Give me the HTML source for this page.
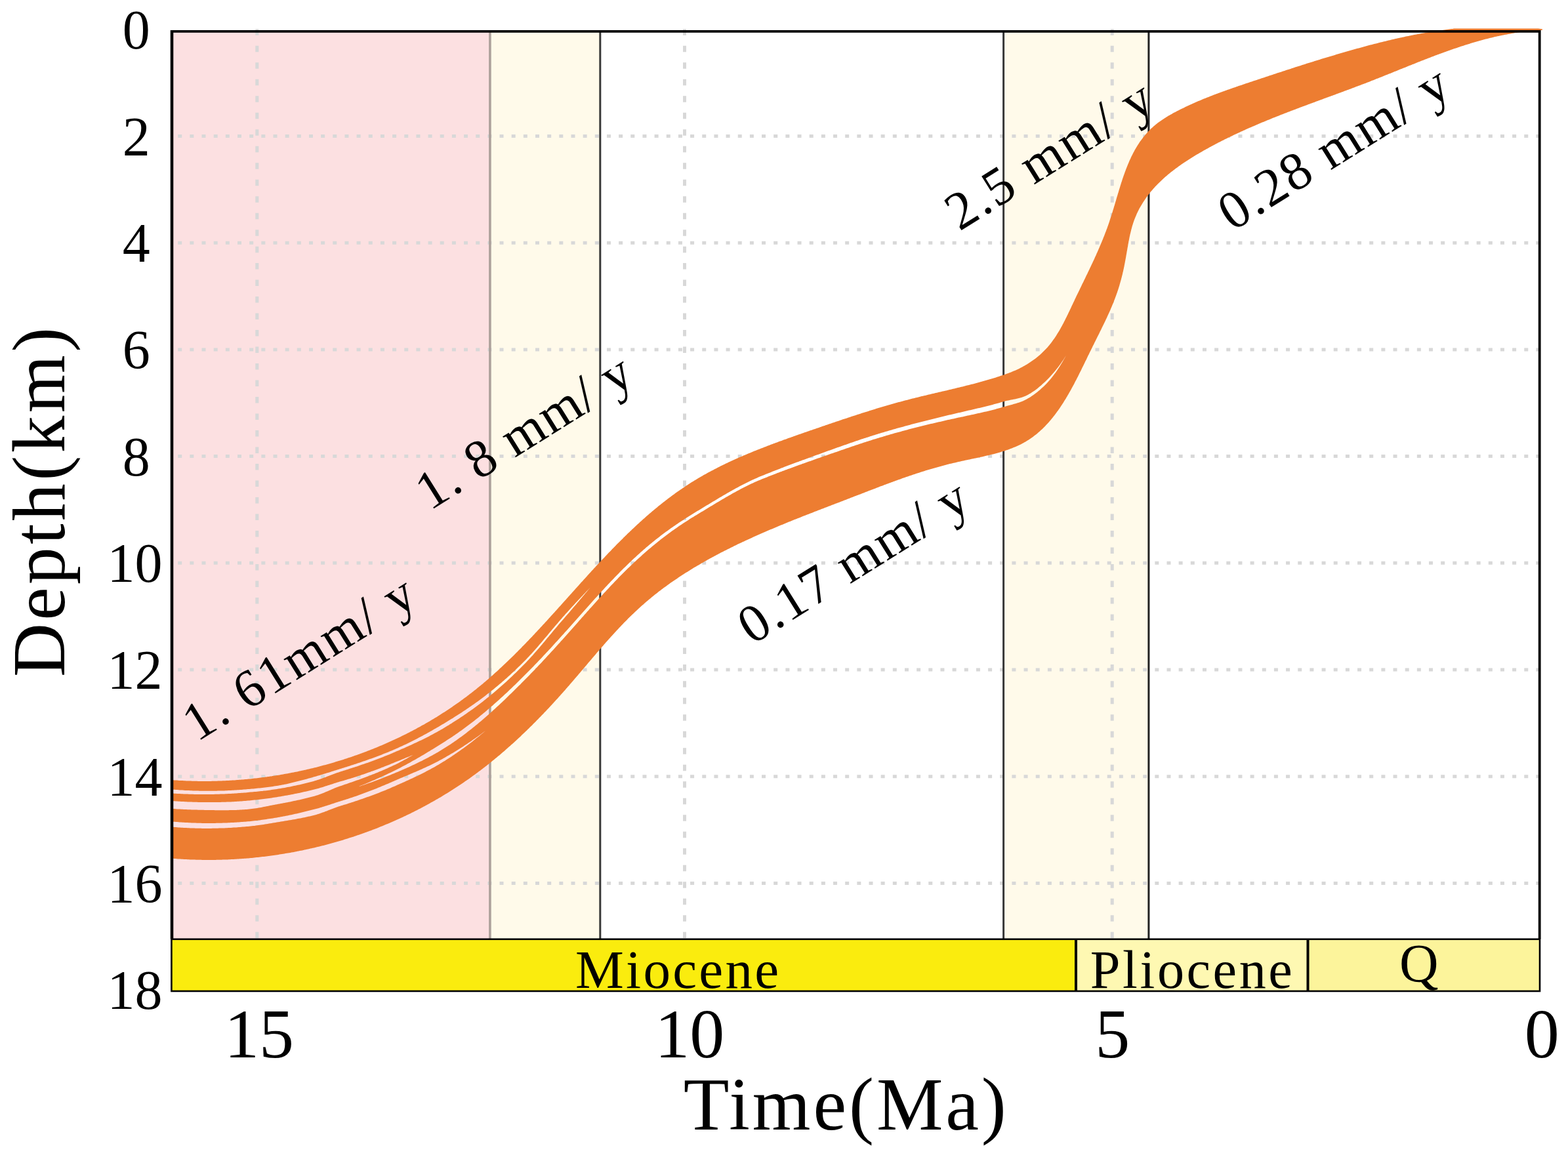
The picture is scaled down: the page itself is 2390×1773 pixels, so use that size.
<!DOCTYPE html>
<html><head><meta charset="utf-8"><title>Depth-Time</title>
<style>html,body{margin:0;padding:0;background:#fff;width:2390px;height:1773px;overflow:hidden}
svg{display:block} text{font-family:"Liberation Serif","Times New Roman",serif;fill:#000}</style>
</head><body>
<svg xmlns="http://www.w3.org/2000/svg" width="2390" height="1773" viewBox="0 0 2390 1773">
<rect x="0" y="0" width="2390" height="1773" fill="#fff"/>
<rect x="261.4000000000001" y="47.8" width="485.4999999999999" height="1383.7" fill="#FCE0E1"/>
<rect x="746.9" y="47.8" width="167.89999999999998" height="1383.7" fill="#FFFAEA"/>
<rect x="1529.6" y="47.8" width="221.30000000000018" height="1383.7" fill="#FFFAEA"/>
<g stroke="#D8D8D8" stroke-width="5" stroke-dasharray="6 12.16"><line x1="271.2" y1="207.5" x2="2345.0" y2="207.5"/><line x1="271.2" y1="370.2" x2="2345.0" y2="370.2"/><line x1="271.2" y1="532.9" x2="2345.0" y2="532.9"/><line x1="271.2" y1="695.6" x2="2345.0" y2="695.6"/><line x1="271.2" y1="858.3" x2="2345.0" y2="858.3"/><line x1="271.2" y1="1021.0" x2="2345.0" y2="1021.0"/><line x1="271.2" y1="1183.7" x2="2345.0" y2="1183.7"/><line x1="271.2" y1="1346.4" x2="2345.0" y2="1346.4"/></g>
<g stroke="#D8D8D8" stroke-width="5" stroke-dasharray="9.5 15.99"><line x1="391.8" y1="44.26" x2="391.8" y2="1431.5"/><line x1="1043.5" y1="44.26" x2="1043.5" y2="1431.5"/><line x1="1695.2" y1="44.26" x2="1695.2" y2="1431.5"/></g>
<line x1="746.9" y1="47.8" x2="746.9" y2="1431.5" stroke="#ADA19B" stroke-width="3.6"/>
<line x1="914.8" y1="47.8" x2="914.8" y2="1431.5" stroke="#383838" stroke-width="3"/>
<line x1="1529.6" y1="47.8" x2="1529.6" y2="1431.5" stroke="#383838" stroke-width="3"/>
<line x1="1750.9" y1="47.8" x2="1750.9" y2="1431.5" stroke="#222" stroke-width="3"/>
<defs><mask id="gm" maskUnits="userSpaceOnUse" x="0" y="0" width="2390" height="1773"><rect x="0" y="0" width="2390" height="1773" fill="#fff"/><path d="M262.0 1203.5 L264.0 1203.7 L266.0 1203.8 L268.0 1204.0 L270.0 1204.1 L272.0 1204.3 L274.0 1204.4 L276.0 1204.5 L278.0 1204.6 L280.0 1204.8 L282.0 1204.9 L284.0 1205.0 L286.0 1205.1 L288.0 1205.1 L290.0 1205.2 L292.0 1205.3 L294.0 1205.4 L296.0 1205.4 L298.0 1205.5 L300.0 1205.6 L302.0 1205.6 L304.0 1205.7 L306.0 1205.7 L308.0 1205.7 L310.0 1205.7 L312.0 1205.8 L314.0 1205.8 L316.0 1205.8 L318.0 1205.8 L320.0 1205.8 L322.0 1205.8 L324.0 1205.8 L326.0 1205.7 L328.0 1205.7 L330.0 1205.7 L332.0 1205.6 L334.0 1205.6 L336.0 1205.5 L338.0 1205.5 L340.0 1205.4 L342.0 1205.4 L344.0 1205.3 L346.0 1205.2 L348.0 1205.1 L350.0 1205.0 L352.0 1204.9 L354.0 1204.8 L356.0 1204.7 L358.0 1204.6 L360.0 1204.5 L362.0 1204.3 L364.0 1204.2 L366.0 1204.1 L368.0 1203.9 L370.0 1203.8 L372.0 1203.6 L374.0 1203.5 L376.0 1203.3 L378.0 1203.1 L380.0 1202.9 L382.0 1202.7 L384.0 1202.6 L386.0 1202.4 L388.0 1202.2 L390.0 1202.0 L392.0 1201.8 L394.0 1201.6 L396.0 1201.4 L398.0 1201.2 L400.0 1201.0 L402.0 1200.7 L404.0 1200.5 L406.0 1200.3 L408.0 1200.0 L410.0 1199.8 L412.0 1199.5 L414.0 1199.2 L416.0 1198.9 L418.0 1198.6 L420.0 1198.3 L422.0 1198.0 L424.0 1197.7 L426.0 1197.3 L428.0 1197.0 L430.0 1196.6 L432.0 1196.2 L434.0 1195.8 L436.0 1195.4 L438.0 1194.9 L440.0 1194.5 L442.0 1194.0 L444.0 1193.6 L446.0 1193.1 L448.0 1192.6 L450.0 1192.1 L452.0 1191.6 L454.0 1191.1 L456.0 1190.6 L458.0 1190.1 L460.0 1189.5 L462.0 1189.0 L464.0 1188.5 L466.0 1187.9 L468.0 1187.4 L470.0 1186.8 L472.0 1186.2 L474.0 1185.7 L476.0 1185.1 L478.0 1184.6 L480.0 1184.0 L482.0 1183.4 L484.0 1182.8 L486.0 1182.3 L488.0 1181.7 L490.0 1181.1 L492.0 1180.5 L494.0 1179.8 L496.0 1179.2 L498.0 1178.6 L500.0 1178.0 L502.0 1177.4 L504.0 1176.7 L506.0 1176.1 L508.0 1175.5 L510.0 1174.8 L512.0 1174.2 L514.0 1173.6 L516.0 1172.9 L518.0 1172.3 L520.0 1171.7 L522.0 1171.1 L524.0 1170.4 L526.0 1169.8 L528.0 1169.2 L530.0 1168.5 L532.0 1167.9 L534.0 1167.3 L536.0 1166.6 L538.0 1166.0 L540.0 1165.3 L542.0 1164.7 L544.0 1164.0 L546.0 1163.3 L548.0 1162.7 L550.0 1162.0 L552.0 1161.3 L554.0 1160.6 L556.0 1159.9 L558.0 1159.2 L560.0 1158.5 L562.0 1157.8 L564.0 1157.1 L566.0 1156.4 L568.0 1155.7 L570.0 1154.9 L572.0 1154.2 L574.0 1153.5 L576.0 1152.7 L578.0 1151.9 L580.0 1151.2 L582.0 1150.4 L584.0 1149.6 L586.0 1148.8 L588.0 1148.0 L590.0 1147.2 L592.0 1146.4 L594.0 1145.6 L596.0 1144.7 L598.0 1143.9 L600.0 1143.0 L602.0 1142.2 L604.0 1141.3 L606.0 1140.4 L608.0 1139.5 L610.0 1138.6 L612.0 1137.7 L614.0 1136.8 L616.0 1135.8 L618.0 1134.9 L620.0 1133.9 L622.0 1133.0 L624.0 1132.0 L626.0 1131.0 L628.0 1130.0 L630.0 1129.0 L632.0 1128.0 L634.0 1126.9 L636.0 1125.9 L638.0 1124.8 L640.0 1123.8 L642.0 1122.7 L644.0 1121.7 L646.0 1120.6 L648.0 1119.5 L650.0 1118.4 L652.0 1117.3 L654.0 1116.2 L656.0 1115.1 L658.0 1113.9 L660.0 1112.8 L662.0 1111.6 L664.0 1110.5 L666.0 1109.3 L668.0 1108.2 L670.0 1107.0 L672.0 1105.8 L674.0 1104.6 L676.0 1103.4 L678.0 1102.2 L680.0 1101.0 L682.0 1099.8 L684.0 1098.6 L686.0 1097.3 L688.0 1096.1 L690.0 1094.9 L692.0 1093.6 L694.0 1092.3 L696.0 1091.1 L698.0 1089.8 L700.0 1088.5 L702.0 1087.2 L704.0 1085.9 L706.0 1084.6 L708.0 1083.3 L710.0 1081.9 L712.0 1080.6 L714.0 1079.2 L716.0 1077.8 L718.0 1076.5 L720.0 1075.1 L722.0 1073.7 L724.0 1072.2 L726.0 1070.8 L728.0 1069.4 L730.0 1067.9 L732.0 1066.4 L734.0 1064.9 L736.0 1063.4 L738.0 1061.9 L740.0 1060.4 L742.0 1058.8 L744.0 1057.3 L746.0 1055.7 L748.0 1054.1 L750.0 1052.5 L752.0 1050.9 L754.0 1049.3 L756.0 1047.6 L758.0 1046.0 L760.0 1044.3 L762.0 1042.6 L764.0 1040.9 L766.0 1039.1 L768.0 1037.4 L770.0 1035.6 L772.0 1033.9 L774.0 1032.1 L776.0 1030.3 L778.0 1028.4 L780.0 1026.6 L782.0 1024.7 L784.0 1022.9 L786.0 1021.0 L788.0 1019.1 L790.0 1017.1 L792.0 1015.2 L794.0 1013.2 L796.0 1011.2 L798.0 1009.2 L800.0 1007.2 L802.0 1005.2 L804.0 1003.1 L806.0 1001.0 L808.0 998.8 L810.0 996.7 L812.0 994.5 L814.0 992.2 L816.0 990.0 L818.0 987.7 L820.0 985.4 L822.0 983.1 L824.0 980.7 L826.0 978.4 L828.0 976.0 L830.0 973.6 L832.0 971.3 L834.0 968.9 L836.0 966.5 L838.0 964.1 L840.0 961.7 L842.0 959.3 L844.0 956.9 L846.0 954.6 L848.0 952.2 L850.0 949.9 L852.0 947.5 L854.0 945.2 L856.0 942.9 L858.0 940.6 L860.0 938.4 L862.0 936.1 L864.0 933.9 L866.0 931.7 L868.0 929.5 L870.0 927.3 L872.0 925.1 L874.0 922.9 L876.0 920.7 L878.0 918.6 L880.0 916.4 L882.0 914.3 L884.0 912.2 L886.0 910.0 L888.0 907.9 L890.0 905.8 L892.0 903.7 L894.0 901.6 L896.0 899.5 L898.0 897.4 L900.0 895.3 L900.0 895.3 L898.0 897.7 L896.0 900.0 L894.0 902.4 L892.0 904.8 L890.0 907.2 L888.0 909.5 L886.0 911.9 L884.0 914.3 L882.0 916.7 L880.0 919.0 L878.0 921.4 L876.0 923.8 L874.0 926.1 L872.0 928.5 L870.0 930.8 L868.0 933.2 L866.0 935.5 L864.0 937.8 L862.0 940.1 L860.0 942.4 L858.0 944.7 L856.0 947.0 L854.0 949.3 L852.0 951.6 L850.0 954.0 L848.0 956.4 L846.0 958.7 L844.0 961.1 L842.0 963.5 L840.0 965.9 L838.0 968.3 L836.0 970.7 L834.0 973.1 L832.0 975.5 L830.0 977.9 L828.0 980.3 L826.0 982.7 L824.0 985.0 L822.0 987.4 L820.0 989.7 L818.0 992.0 L816.0 994.3 L814.0 996.6 L812.0 998.9 L810.0 1001.1 L808.0 1003.3 L806.0 1005.4 L804.0 1007.6 L802.0 1009.7 L800.0 1011.7 L798.0 1013.8 L796.0 1015.8 L794.0 1017.8 L792.0 1019.8 L790.0 1021.8 L788.0 1023.7 L786.0 1025.7 L784.0 1027.6 L782.0 1029.5 L780.0 1031.4 L778.0 1033.3 L776.0 1035.2 L774.0 1037.0 L772.0 1038.9 L770.0 1040.7 L768.0 1042.5 L766.0 1044.3 L764.0 1046.1 L762.0 1047.8 L760.0 1049.6 L758.0 1051.3 L756.0 1053.0 L754.0 1054.7 L752.0 1056.4 L750.0 1058.1 L748.0 1059.7 L746.0 1061.4 L744.0 1063.0 L742.0 1064.6 L740.0 1066.2 L738.0 1067.8 L736.0 1069.4 L734.0 1070.9 L732.0 1072.4 L730.0 1074.0 L728.0 1075.5 L726.0 1077.0 L724.0 1078.5 L722.0 1079.9 L720.0 1081.4 L718.0 1082.8 L716.0 1084.2 L714.0 1085.6 L712.0 1087.0 L710.0 1088.4 L708.0 1089.8 L706.0 1091.2 L704.0 1092.5 L702.0 1093.8 L700.0 1095.2 L698.0 1096.5 L696.0 1097.8 L694.0 1099.1 L692.0 1100.3 L690.0 1101.6 L688.0 1102.9 L686.0 1104.1 L684.0 1105.4 L682.0 1106.6 L680.0 1107.8 L678.0 1109.0 L676.0 1110.2 L674.0 1111.4 L672.0 1112.5 L670.0 1113.7 L668.0 1114.8 L666.0 1115.9 L664.0 1117.0 L662.0 1118.1 L660.0 1119.2 L658.0 1120.3 L656.0 1121.3 L654.0 1122.4 L652.0 1123.4 L650.0 1124.4 L648.0 1125.4 L646.0 1126.4 L644.0 1127.4 L642.0 1128.4 L640.0 1129.3 L638.0 1130.3 L636.0 1131.3 L634.0 1132.2 L632.0 1133.1 L630.0 1134.1 L628.0 1135.0 L626.0 1135.9 L624.0 1136.8 L622.0 1137.7 L620.0 1138.6 L618.0 1139.5 L616.0 1140.4 L614.0 1141.3 L612.0 1142.1 L610.0 1143.0 L608.0 1143.9 L606.0 1144.8 L604.0 1145.6 L602.0 1146.5 L600.0 1147.3 L598.0 1148.2 L596.0 1149.0 L594.0 1149.9 L592.0 1150.7 L590.0 1151.5 L588.0 1152.3 L586.0 1153.1 L584.0 1153.9 L582.0 1154.7 L580.0 1155.5 L578.0 1156.3 L576.0 1157.0 L574.0 1157.8 L572.0 1158.5 L570.0 1159.3 L568.0 1160.0 L566.0 1160.7 L564.0 1161.4 L562.0 1162.2 L560.0 1162.9 L558.0 1163.6 L556.0 1164.3 L554.0 1165.0 L552.0 1165.6 L550.0 1166.3 L548.0 1167.0 L546.0 1167.7 L544.0 1168.4 L542.0 1169.0 L540.0 1169.7 L538.0 1170.3 L536.0 1171.0 L534.0 1171.6 L532.0 1172.3 L530.0 1172.9 L528.0 1173.6 L526.0 1174.2 L524.0 1174.8 L522.0 1175.5 L520.0 1176.1 L518.0 1176.7 L516.0 1177.4 L514.0 1178.1 L512.0 1178.8 L510.0 1179.5 L508.0 1180.3 L506.0 1181.0 L504.0 1181.8 L502.0 1182.6 L500.0 1183.3 L498.0 1184.1 L496.0 1184.9 L494.0 1185.6 L492.0 1186.3 L490.0 1187.1 L488.0 1187.8 L486.0 1188.4 L484.0 1189.1 L482.0 1189.7 L480.0 1190.3 L478.0 1190.9 L476.0 1191.4 L474.0 1191.9 L472.0 1192.5 L470.0 1193.0 L468.0 1193.5 L466.0 1194.0 L464.0 1194.5 L462.0 1195.0 L460.0 1195.5 L458.0 1195.9 L456.0 1196.4 L454.0 1196.8 L452.0 1197.3 L450.0 1197.7 L448.0 1198.1 L446.0 1198.6 L444.0 1199.0 L442.0 1199.4 L440.0 1199.8 L438.0 1200.1 L436.0 1200.5 L434.0 1200.9 L432.0 1201.2 L430.0 1201.6 L428.0 1201.9 L426.0 1202.3 L424.0 1202.6 L422.0 1202.9 L420.0 1203.2 L418.0 1203.5 L416.0 1203.8 L414.0 1204.1 L412.0 1204.4 L410.0 1204.7 L408.0 1204.9 L406.0 1205.2 L404.0 1205.4 L402.0 1205.6 L400.0 1205.9 L398.0 1206.1 L396.0 1206.3 L394.0 1206.5 L392.0 1206.7 L390.0 1206.9 L388.0 1207.1 L386.0 1207.3 L384.0 1207.5 L382.0 1207.6 L380.0 1207.8 L378.0 1208.0 L376.0 1208.2 L374.0 1208.4 L372.0 1208.5 L370.0 1208.7 L368.0 1208.8 L366.0 1209.0 L364.0 1209.1 L362.0 1209.3 L360.0 1209.4 L358.0 1209.5 L356.0 1209.7 L354.0 1209.8 L352.0 1209.9 L350.0 1210.0 L348.0 1210.1 L346.0 1210.2 L344.0 1210.3 L342.0 1210.4 L340.0 1210.5 L338.0 1210.5 L336.0 1210.6 L334.0 1210.7 L332.0 1210.7 L330.0 1210.8 L328.0 1210.8 L326.0 1210.9 L324.0 1210.9 L322.0 1211.0 L320.0 1211.0 L318.0 1211.0 L316.0 1211.0 L314.0 1211.0 L312.0 1211.0 L310.0 1211.0 L308.0 1211.0 L306.0 1211.0 L304.0 1211.0 L302.0 1211.0 L300.0 1211.0 L298.0 1210.9 L296.0 1210.9 L294.0 1210.8 L292.0 1210.8 L290.0 1210.7 L288.0 1210.7 L286.0 1210.6 L284.0 1210.6 L282.0 1210.5 L280.0 1210.4 L278.0 1210.3 L276.0 1210.2 L274.0 1210.1 L272.0 1210.0 L270.0 1209.9 L268.0 1209.8 L266.0 1209.7 L264.0 1209.5 L262.0 1209.4 Z" fill="#000"/><path d="M262.0 1221.0 L264.0 1221.2 L266.0 1221.3 L268.0 1221.4 L270.0 1221.6 L272.0 1221.7 L274.0 1221.8 L276.0 1221.9 L278.0 1222.0 L280.0 1222.1 L282.0 1222.2 L284.0 1222.3 L286.0 1222.4 L288.0 1222.5 L290.0 1222.5 L292.0 1222.6 L294.0 1222.7 L296.0 1222.7 L298.0 1222.8 L300.0 1222.8 L302.0 1222.9 L304.0 1222.9 L306.0 1222.9 L308.0 1222.9 L310.0 1223.0 L312.0 1223.0 L314.0 1223.0 L316.0 1223.0 L318.0 1223.0 L320.0 1223.0 L322.0 1223.0 L324.0 1223.0 L326.0 1223.0 L328.0 1223.0 L330.0 1223.0 L332.0 1222.9 L334.0 1222.9 L336.0 1222.9 L338.0 1222.8 L340.0 1222.8 L342.0 1222.7 L344.0 1222.7 L346.0 1222.6 L348.0 1222.5 L350.0 1222.4 L352.0 1222.4 L354.0 1222.3 L356.0 1222.2 L358.0 1222.1 L360.0 1222.0 L362.0 1221.8 L364.0 1221.7 L366.0 1221.6 L368.0 1221.4 L370.0 1221.3 L372.0 1221.1 L374.0 1221.0 L376.0 1220.8 L378.0 1220.6 L380.0 1220.4 L382.0 1220.2 L384.0 1220.0 L386.0 1219.8 L388.0 1219.6 L390.0 1219.4 L392.0 1219.2 L394.0 1219.0 L396.0 1218.7 L398.0 1218.5 L400.0 1218.3 L402.0 1218.0 L404.0 1217.8 L406.0 1217.5 L408.0 1217.2 L410.0 1217.0 L412.0 1216.7 L414.0 1216.4 L416.0 1216.1 L418.0 1215.8 L420.0 1215.5 L422.0 1215.2 L424.0 1214.8 L426.0 1214.5 L428.0 1214.2 L430.0 1213.8 L432.0 1213.5 L434.0 1213.1 L436.0 1212.8 L438.0 1212.4 L440.0 1212.0 L442.0 1211.7 L444.0 1211.3 L446.0 1210.9 L448.0 1210.5 L450.0 1210.1 L452.0 1209.7 L454.0 1209.3 L456.0 1208.9 L458.0 1208.4 L460.0 1208.0 L462.0 1207.6 L464.0 1207.1 L466.0 1206.7 L468.0 1206.2 L470.0 1205.7 L472.0 1205.3 L474.0 1204.8 L476.0 1204.3 L478.0 1203.8 L480.0 1203.3 L482.0 1202.8 L484.0 1202.2 L486.0 1201.7 L488.0 1201.1 L490.0 1200.5 L492.0 1199.9 L494.0 1199.3 L496.0 1198.6 L498.0 1198.0 L500.0 1197.3 L502.0 1196.7 L504.0 1196.0 L506.0 1195.4 L508.0 1194.7 L510.0 1194.1 L512.0 1193.5 L514.0 1192.8 L516.0 1192.2 L518.0 1191.6 L520.0 1191.1 L522.0 1190.5 L524.0 1189.9 L526.0 1189.3 L528.0 1188.7 L530.0 1188.1 L532.0 1187.5 L534.0 1186.9 L536.0 1186.3 L538.0 1185.7 L540.0 1185.0 L542.0 1184.4 L544.0 1183.7 L546.0 1183.1 L548.0 1182.4 L550.0 1181.7 L552.0 1181.1 L554.0 1180.4 L556.0 1179.7 L558.0 1179.0 L560.0 1178.3 L562.0 1177.6 L564.0 1176.9 L566.0 1176.1 L568.0 1175.4 L570.0 1174.7 L572.0 1173.9 L574.0 1173.2 L576.0 1172.4 L578.0 1171.7 L580.0 1170.9 L582.0 1170.1 L584.0 1169.4 L586.0 1168.6 L588.0 1167.8 L590.0 1167.0 L592.0 1166.2 L594.0 1165.4 L596.0 1164.6 L598.0 1163.8 L600.0 1162.9 L602.0 1162.1 L604.0 1161.3 L606.0 1160.5 L608.0 1159.7 L610.0 1158.9 L612.0 1158.1 L614.0 1157.3 L616.0 1156.4 L618.0 1155.6 L620.0 1154.8 L622.0 1154.0 L624.0 1153.2 L626.0 1152.3 L628.0 1151.5 L630.0 1150.7 L630.0 1150.7 L628.0 1151.8 L626.0 1153.0 L624.0 1154.1 L622.0 1155.3 L620.0 1156.4 L618.0 1157.5 L616.0 1158.6 L614.0 1159.7 L612.0 1160.8 L610.0 1161.8 L608.0 1162.9 L606.0 1163.9 L604.0 1164.9 L602.0 1165.9 L600.0 1166.8 L598.0 1167.8 L596.0 1168.7 L594.0 1169.6 L592.0 1170.5 L590.0 1171.4 L588.0 1172.3 L586.0 1173.2 L584.0 1174.1 L582.0 1174.9 L580.0 1175.8 L578.0 1176.6 L576.0 1177.4 L574.0 1178.2 L572.0 1179.1 L570.0 1179.9 L568.0 1180.6 L566.0 1181.4 L564.0 1182.2 L562.0 1183.0 L560.0 1183.7 L558.0 1184.5 L556.0 1185.2 L554.0 1186.0 L552.0 1186.7 L550.0 1187.4 L548.0 1188.2 L546.0 1188.9 L544.0 1189.6 L542.0 1190.3 L540.0 1191.0 L538.0 1191.7 L536.0 1192.4 L534.0 1193.1 L532.0 1193.8 L530.0 1194.5 L528.0 1195.2 L526.0 1195.8 L524.0 1196.5 L522.0 1197.2 L520.0 1197.9 L518.0 1198.5 L516.0 1199.3 L514.0 1200.0 L512.0 1200.8 L510.0 1201.6 L508.0 1202.5 L506.0 1203.3 L504.0 1204.2 L502.0 1205.0 L500.0 1205.9 L498.0 1206.8 L496.0 1207.6 L494.0 1208.4 L492.0 1209.2 L490.0 1210.0 L488.0 1210.8 L486.0 1211.5 L484.0 1212.2 L482.0 1212.8 L480.0 1213.4 L478.0 1214.0 L476.0 1214.5 L474.0 1215.0 L472.0 1215.6 L470.0 1216.1 L468.0 1216.6 L466.0 1217.1 L464.0 1217.6 L462.0 1218.0 L460.0 1218.5 L458.0 1219.0 L456.0 1219.4 L454.0 1219.8 L452.0 1220.3 L450.0 1220.7 L448.0 1221.1 L446.0 1221.6 L444.0 1222.0 L442.0 1222.4 L440.0 1222.8 L438.0 1223.2 L436.0 1223.6 L434.0 1223.9 L432.0 1224.3 L430.0 1224.7 L428.0 1225.1 L426.0 1225.5 L424.0 1225.8 L422.0 1226.2 L420.0 1226.6 L418.0 1226.9 L416.0 1227.3 L414.0 1227.7 L412.0 1228.1 L410.0 1228.5 L408.0 1228.9 L406.0 1229.3 L404.0 1229.7 L402.0 1230.1 L400.0 1230.5 L398.0 1230.9 L396.0 1231.2 L394.0 1231.6 L392.0 1231.9 L390.0 1232.3 L388.0 1232.6 L386.0 1232.8 L384.0 1233.1 L382.0 1233.3 L380.0 1233.5 L378.0 1233.7 L376.0 1233.9 L374.0 1234.1 L372.0 1234.2 L370.0 1234.3 L368.0 1234.5 L366.0 1234.6 L364.0 1234.7 L362.0 1234.8 L360.0 1234.9 L358.0 1234.9 L356.0 1235.0 L354.0 1235.0 L352.0 1235.1 L350.0 1235.1 L348.0 1235.2 L346.0 1235.2 L344.0 1235.2 L342.0 1235.2 L340.0 1235.2 L338.0 1235.2 L336.0 1235.2 L334.0 1235.2 L332.0 1235.2 L330.0 1235.2 L328.0 1235.2 L326.0 1235.1 L324.0 1235.1 L322.0 1235.1 L320.0 1235.0 L318.0 1235.0 L316.0 1234.9 L314.0 1234.9 L312.0 1234.9 L310.0 1234.8 L308.0 1234.8 L306.0 1234.7 L304.0 1234.7 L302.0 1234.7 L300.0 1234.6 L298.0 1234.6 L296.0 1234.5 L294.0 1234.5 L292.0 1234.4 L290.0 1234.3 L288.0 1234.3 L286.0 1234.2 L284.0 1234.1 L282.0 1234.0 L280.0 1233.9 L278.0 1233.8 L276.0 1233.7 L274.0 1233.6 L272.0 1233.5 L270.0 1233.4 L268.0 1233.2 L266.0 1233.1 L264.0 1233.0 L262.0 1232.8 Z" fill="#000"/><path d="M545.0 1199.7 L547.0 1198.9 L549.0 1198.1 L551.0 1197.3 L553.0 1196.5 L555.0 1195.7 L557.0 1194.9 L559.0 1194.0 L561.0 1193.2 L563.0 1192.3 L565.0 1191.5 L567.0 1190.6 L569.0 1189.8 L571.0 1188.9 L573.0 1188.0 L575.0 1187.1 L577.0 1186.2 L579.0 1185.3 L581.0 1184.4 L583.0 1183.5 L585.0 1182.6 L587.0 1181.7 L589.0 1180.7 L591.0 1179.8 L593.0 1178.8 L595.0 1177.9 L597.0 1176.9 L599.0 1175.9 L601.0 1175.0 L603.0 1174.0 L605.0 1173.0 L607.0 1172.0 L609.0 1170.9 L611.0 1169.9 L613.0 1168.8 L615.0 1167.8 L617.0 1166.7 L619.0 1165.7 L621.0 1164.6 L623.0 1163.5 L625.0 1162.4 L627.0 1161.3 L629.0 1160.1 L631.0 1159.0 L633.0 1157.9 L635.0 1156.7 L637.0 1155.6 L639.0 1154.4 L641.0 1153.2 L643.0 1152.1 L645.0 1150.9 L647.0 1149.7 L649.0 1148.5 L651.0 1147.3 L653.0 1146.1 L655.0 1144.9 L657.0 1143.6 L659.0 1142.4 L661.0 1141.2 L663.0 1139.9 L665.0 1138.7 L667.0 1137.5 L669.0 1136.2 L671.0 1134.9 L673.0 1133.7 L675.0 1132.4 L677.0 1131.2 L679.0 1129.9 L681.0 1128.6 L683.0 1127.3 L685.0 1126.0 L687.0 1124.7 L689.0 1123.4 L691.0 1122.0 L693.0 1120.7 L695.0 1119.3 L697.0 1117.9 L699.0 1116.5 L701.0 1115.1 L703.0 1113.7 L705.0 1112.2 L707.0 1110.8 L709.0 1109.3 L711.0 1107.8 L713.0 1106.3 L715.0 1104.8 L717.0 1103.3 L719.0 1101.8 L721.0 1100.2 L723.0 1098.7 L725.0 1097.1 L727.0 1095.5 L729.0 1093.9 L731.0 1092.3 L733.0 1090.6 L735.0 1089.0 L737.0 1087.3 L739.0 1085.7 L741.0 1084.0 L743.0 1082.3 L745.0 1080.6 L747.0 1078.8 L749.0 1077.1 L751.0 1075.4 L753.0 1073.6 L755.0 1071.8 L757.0 1070.0 L759.0 1068.2 L761.0 1066.4 L763.0 1064.6 L765.0 1062.8 L767.0 1060.9 L769.0 1059.1 L771.0 1057.2 L773.0 1055.4 L775.0 1053.5 L777.0 1051.6 L779.0 1049.7 L781.0 1047.8 L783.0 1045.8 L785.0 1043.9 L787.0 1042.0 L789.0 1040.0 L791.0 1038.0 L793.0 1036.1 L795.0 1034.1 L797.0 1032.1 L799.0 1030.1 L801.0 1028.1 L803.0 1026.1 L805.0 1024.1 L807.0 1022.1 L809.0 1020.0 L811.0 1018.0 L813.0 1015.9 L815.0 1013.8 L817.0 1011.8 L819.0 1009.7 L821.0 1007.6 L823.0 1005.5 L825.0 1003.4 L827.0 1001.2 L829.0 999.1 L831.0 997.0 L833.0 994.8 L835.0 992.7 L837.0 990.5 L839.0 988.4 L841.0 986.2 L843.0 984.0 L845.0 981.8 L847.0 979.6 L849.0 977.4 L851.0 975.2 L853.0 973.0 L855.0 970.8 L857.0 968.6 L859.0 966.4 L861.0 964.1 L863.0 961.9 L865.0 959.7 L867.0 957.4 L869.0 955.2 L871.0 952.9 L873.0 950.7 L875.0 948.4 L877.0 946.2 L879.0 943.9 L881.0 941.7 L883.0 939.4 L885.0 937.2 L887.0 934.9 L889.0 932.7 L891.0 930.4 L893.0 928.2 L895.0 925.9 L897.0 923.7 L899.0 921.5 L901.0 919.2 L903.0 917.0 L905.0 914.8 L907.0 912.6 L909.0 910.4 L911.0 908.2 L913.0 906.0 L915.0 903.8 L917.0 901.6 L919.0 899.4 L921.0 897.3 L923.0 895.1 L925.0 893.0 L927.0 890.8 L929.0 888.7 L931.0 886.6 L933.0 884.5 L935.0 882.4 L937.0 880.3 L939.0 878.3 L941.0 876.2 L943.0 874.2 L945.0 872.1 L947.0 870.1 L949.0 868.1 L951.0 866.1 L953.0 864.2 L955.0 862.2 L957.0 860.2 L959.0 858.3 L961.0 856.4 L963.0 854.5 L965.0 852.6 L967.0 850.7 L969.0 848.9 L971.0 847.0 L973.0 845.2 L975.0 843.4 L977.0 841.6 L979.0 839.9 L981.0 838.1 L983.0 836.4 L985.0 834.6 L987.0 832.9 L989.0 831.2 L991.0 829.6 L993.0 827.9 L995.0 826.3 L997.0 824.7 L999.0 823.1 L1001.0 821.5 L1003.0 819.9 L1005.0 818.4 L1007.0 816.8 L1009.0 815.3 L1011.0 813.8 L1013.0 812.3 L1015.0 810.8 L1017.0 809.4 L1019.0 807.9 L1021.0 806.5 L1023.0 805.1 L1025.0 803.7 L1027.0 802.3 L1029.0 800.9 L1031.0 799.5 L1033.0 798.2 L1035.0 796.8 L1037.0 795.5 L1039.0 794.2 L1041.0 792.9 L1043.0 791.6 L1045.0 790.3 L1047.0 789.0 L1049.0 787.7 L1051.0 786.5 L1053.0 785.2 L1055.0 784.0 L1057.0 782.8 L1059.0 781.5 L1061.0 780.3 L1063.0 779.1 L1065.0 777.9 L1067.0 776.7 L1069.0 775.5 L1071.0 774.3 L1073.0 773.1 L1075.0 771.8 L1077.0 770.6 L1079.0 769.4 L1081.0 768.2 L1083.0 767.0 L1085.0 765.8 L1087.0 764.6 L1089.0 763.4 L1091.0 762.2 L1093.0 761.0 L1095.0 759.8 L1097.0 758.6 L1099.0 757.4 L1101.0 756.2 L1103.0 755.1 L1105.0 753.9 L1107.0 752.7 L1109.0 751.6 L1111.0 750.4 L1113.0 749.3 L1115.0 748.2 L1117.0 747.0 L1119.0 745.9 L1121.0 744.8 L1123.0 743.7 L1125.0 742.7 L1127.0 741.6 L1129.0 740.5 L1131.0 739.5 L1133.0 738.4 L1135.0 737.4 L1137.0 736.4 L1139.0 735.4 L1141.0 734.4 L1143.0 733.5 L1145.0 732.5 L1147.0 731.6 L1149.0 730.7 L1151.0 729.7 L1153.0 728.9 L1155.0 728.0 L1157.0 727.1 L1159.0 726.3 L1161.0 725.5 L1163.0 724.7 L1165.0 723.9 L1167.0 723.1 L1169.0 722.3 L1171.0 721.5 L1173.0 720.7 L1175.0 719.9 L1177.0 719.1 L1179.0 718.3 L1181.0 717.5 L1183.0 716.7 L1185.0 716.0 L1187.0 715.2 L1189.0 714.4 L1191.0 713.6 L1193.0 712.9 L1195.0 712.1 L1197.0 711.3 L1199.0 710.6 L1201.0 709.8 L1203.0 709.1 L1205.0 708.3 L1207.0 707.6 L1209.0 706.8 L1211.0 706.1 L1213.0 705.3 L1215.0 704.6 L1217.0 703.9 L1219.0 703.1 L1221.0 702.4 L1223.0 701.6 L1225.0 700.9 L1227.0 700.2 L1229.0 699.4 L1231.0 698.7 L1233.0 698.0 L1235.0 697.2 L1237.0 696.5 L1239.0 695.8 L1241.0 695.1 L1243.0 694.3 L1245.0 693.6 L1247.0 692.9 L1249.0 692.2 L1251.0 691.4 L1253.0 690.7 L1255.0 690.0 L1257.0 689.3 L1259.0 688.5 L1261.0 687.8 L1263.0 687.1 L1265.0 686.4 L1267.0 685.7 L1269.0 685.0 L1271.0 684.3 L1273.0 683.5 L1275.0 682.8 L1277.0 682.1 L1279.0 681.4 L1281.0 680.7 L1283.0 680.0 L1285.0 679.3 L1287.0 678.6 L1289.0 677.9 L1291.0 677.2 L1293.0 676.5 L1295.0 675.8 L1297.0 675.1 L1299.0 674.4 L1301.0 673.7 L1303.0 673.0 L1305.0 672.3 L1307.0 671.7 L1309.0 671.0 L1311.0 670.3 L1313.0 669.6 L1315.0 669.0 L1317.0 668.3 L1319.0 667.7 L1321.0 667.0 L1323.0 666.4 L1325.0 665.7 L1327.0 665.1 L1329.0 664.5 L1331.0 663.8 L1333.0 663.2 L1335.0 662.6 L1337.0 662.0 L1339.0 661.3 L1341.0 660.7 L1343.0 660.1 L1345.0 659.5 L1347.0 658.9 L1349.0 658.3 L1351.0 657.7 L1353.0 657.2 L1355.0 656.6 L1357.0 656.0 L1359.0 655.4 L1361.0 654.8 L1363.0 654.3 L1365.0 653.7 L1367.0 653.1 L1369.0 652.6 L1371.0 652.0 L1373.0 651.5 L1375.0 650.9 L1377.0 650.4 L1379.0 649.8 L1381.0 649.3 L1383.0 648.7 L1385.0 648.2 L1387.0 647.7 L1389.0 647.1 L1391.0 646.6 L1393.0 646.1 L1395.0 645.6 L1397.0 645.1 L1399.0 644.5 L1401.0 644.0 L1403.0 643.5 L1405.0 643.0 L1407.0 642.5 L1409.0 642.0 L1411.0 641.5 L1413.0 641.0 L1415.0 640.5 L1417.0 640.0 L1419.0 639.5 L1421.0 639.0 L1423.0 638.5 L1425.0 638.0 L1427.0 637.5 L1429.0 637.0 L1431.0 636.5 L1433.0 636.0 L1435.0 635.5 L1437.0 635.0 L1439.0 634.6 L1441.0 634.1 L1443.0 633.6 L1445.0 633.1 L1447.0 632.6 L1449.0 632.2 L1451.0 631.7 L1453.0 631.2 L1455.0 630.7 L1457.0 630.3 L1459.0 629.8 L1461.0 629.3 L1463.0 628.9 L1465.0 628.4 L1467.0 627.9 L1469.0 627.5 L1471.0 627.0 L1473.0 626.6 L1475.0 626.1 L1477.0 625.6 L1479.0 625.2 L1481.0 624.7 L1483.0 624.2 L1485.0 623.8 L1487.0 623.3 L1489.0 622.8 L1491.0 622.3 L1493.0 621.9 L1495.0 621.4 L1497.0 620.9 L1499.0 620.4 L1501.0 619.9 L1503.0 619.4 L1505.0 618.9 L1507.0 618.4 L1509.0 617.9 L1511.0 617.4 L1513.0 616.9 L1515.0 616.3 L1517.0 615.8 L1519.0 615.3 L1521.0 614.7 L1523.0 614.2 L1525.0 613.6 L1527.0 613.0 L1529.0 612.4 L1531.0 611.8 L1533.0 611.3 L1535.0 610.8 L1537.0 610.4 L1539.0 610.0 L1541.0 609.6 L1543.0 609.2 L1545.0 608.8 L1547.0 608.4 L1549.0 608.0 L1551.0 607.6 L1553.0 607.1 L1555.0 606.5 L1557.0 606.0 L1559.0 605.3 L1561.0 604.5 L1563.0 603.7 L1565.0 602.8 L1567.0 601.7 L1569.0 600.6 L1571.0 599.4 L1573.0 598.1 L1575.0 596.8 L1577.0 595.4 L1579.0 593.9 L1581.0 592.4 L1583.0 590.8 L1585.0 589.1 L1587.0 587.4 L1589.0 585.6 L1591.0 583.8 L1593.0 581.9 L1595.0 580.0 L1597.0 578.0 L1599.0 575.9 L1601.0 573.8 L1603.0 571.6 L1605.0 569.3 L1607.0 567.0 L1609.0 564.5 L1611.0 562.0 L1613.0 559.4 L1615.0 556.7 L1617.0 554.0 L1619.0 551.1 L1621.0 548.2 L1623.0 545.1 L1625.0 542.0 L1625.0 542.0 L1623.0 545.6 L1621.0 549.1 L1619.0 552.5 L1617.0 555.8 L1615.0 559.0 L1613.0 562.0 L1611.0 565.0 L1609.0 567.9 L1607.0 570.6 L1605.0 573.3 L1603.0 575.8 L1601.0 578.2 L1599.0 580.6 L1597.0 582.8 L1595.0 584.9 L1593.0 587.0 L1591.0 588.9 L1589.0 590.8 L1587.0 592.6 L1585.0 594.4 L1583.0 596.1 L1581.0 597.7 L1579.0 599.3 L1577.0 600.8 L1575.0 602.2 L1573.0 603.6 L1571.0 604.9 L1569.0 606.2 L1567.0 607.3 L1565.0 608.5 L1563.0 609.5 L1561.0 610.5 L1559.0 611.4 L1557.0 612.2 L1555.0 612.9 L1553.0 613.7 L1551.0 614.3 L1549.0 614.9 L1547.0 615.5 L1545.0 616.1 L1543.0 616.7 L1541.0 617.2 L1539.0 617.7 L1537.0 618.3 L1535.0 618.8 L1533.0 619.4 L1531.0 619.9 L1529.0 620.5 L1527.0 621.1 L1525.0 621.7 L1523.0 622.2 L1521.0 622.8 L1519.0 623.3 L1517.0 623.9 L1515.0 624.4 L1513.0 624.9 L1511.0 625.4 L1509.0 625.9 L1507.0 626.4 L1505.0 626.9 L1503.0 627.4 L1501.0 627.8 L1499.0 628.3 L1497.0 628.8 L1495.0 629.2 L1493.0 629.7 L1491.0 630.1 L1489.0 630.6 L1487.0 631.0 L1485.0 631.5 L1483.0 631.9 L1481.0 632.3 L1479.0 632.8 L1477.0 633.2 L1475.0 633.6 L1473.0 634.1 L1471.0 634.5 L1469.0 634.9 L1467.0 635.4 L1465.0 635.8 L1463.0 636.2 L1461.0 636.6 L1459.0 637.1 L1457.0 637.5 L1455.0 637.9 L1453.0 638.4 L1451.0 638.8 L1449.0 639.3 L1447.0 639.7 L1445.0 640.1 L1443.0 640.6 L1441.0 641.0 L1439.0 641.5 L1437.0 641.9 L1435.0 642.4 L1433.0 642.9 L1431.0 643.3 L1429.0 643.8 L1427.0 644.2 L1425.0 644.7 L1423.0 645.2 L1421.0 645.7 L1419.0 646.1 L1417.0 646.6 L1415.0 647.1 L1413.0 647.6 L1411.0 648.1 L1409.0 648.5 L1407.0 649.0 L1405.0 649.5 L1403.0 650.0 L1401.0 650.5 L1399.0 651.0 L1397.0 651.5 L1395.0 652.1 L1393.0 652.6 L1391.0 653.1 L1389.0 653.6 L1387.0 654.1 L1385.0 654.6 L1383.0 655.2 L1381.0 655.7 L1379.0 656.2 L1377.0 656.8 L1375.0 657.3 L1373.0 657.9 L1371.0 658.4 L1369.0 659.0 L1367.0 659.5 L1365.0 660.1 L1363.0 660.6 L1361.0 661.2 L1359.0 661.8 L1357.0 662.3 L1355.0 662.9 L1353.0 663.5 L1351.0 664.1 L1349.0 664.7 L1347.0 665.3 L1345.0 665.9 L1343.0 666.5 L1341.0 667.1 L1339.0 667.7 L1337.0 668.3 L1335.0 668.9 L1333.0 669.5 L1331.0 670.1 L1329.0 670.8 L1327.0 671.4 L1325.0 672.0 L1323.0 672.7 L1321.0 673.3 L1319.0 673.9 L1317.0 674.6 L1315.0 675.2 L1313.0 675.9 L1311.0 676.6 L1309.0 677.2 L1307.0 677.9 L1305.0 678.6 L1303.0 679.2 L1301.0 679.9 L1299.0 680.6 L1297.0 681.3 L1295.0 682.0 L1293.0 682.7 L1291.0 683.3 L1289.0 684.0 L1287.0 684.7 L1285.0 685.4 L1283.0 686.1 L1281.0 686.8 L1279.0 687.5 L1277.0 688.2 L1275.0 688.9 L1273.0 689.6 L1271.0 690.3 L1269.0 690.9 L1267.0 691.6 L1265.0 692.3 L1263.0 693.0 L1261.0 693.7 L1259.0 694.4 L1257.0 695.1 L1255.0 695.8 L1253.0 696.5 L1251.0 697.2 L1249.0 697.9 L1247.0 698.6 L1245.0 699.3 L1243.0 700.0 L1241.0 700.8 L1239.0 701.5 L1237.0 702.2 L1235.0 702.9 L1233.0 703.6 L1231.0 704.3 L1229.0 705.0 L1227.0 705.7 L1225.0 706.4 L1223.0 707.1 L1221.0 707.9 L1219.0 708.6 L1217.0 709.3 L1215.0 710.0 L1213.0 710.7 L1211.0 711.5 L1209.0 712.2 L1207.0 712.9 L1205.0 713.7 L1203.0 714.4 L1201.0 715.1 L1199.0 715.9 L1197.0 716.6 L1195.0 717.4 L1193.0 718.1 L1191.0 718.9 L1189.0 719.6 L1187.0 720.4 L1185.0 721.1 L1183.0 721.9 L1181.0 722.7 L1179.0 723.4 L1177.0 724.2 L1175.0 725.0 L1173.0 725.8 L1171.0 726.6 L1169.0 727.4 L1167.0 728.2 L1165.0 729.0 L1163.0 729.8 L1161.0 730.6 L1159.0 731.4 L1157.0 732.2 L1155.0 733.1 L1153.0 734.0 L1151.0 734.8 L1149.0 735.8 L1147.0 736.7 L1145.0 737.6 L1143.0 738.6 L1141.0 739.5 L1139.0 740.5 L1137.0 741.5 L1135.0 742.5 L1133.0 743.5 L1131.0 744.6 L1129.0 745.6 L1127.0 746.7 L1125.0 747.8 L1123.0 748.8 L1121.0 749.9 L1119.0 751.0 L1117.0 752.1 L1115.0 753.3 L1113.0 754.4 L1111.0 755.5 L1109.0 756.7 L1107.0 757.8 L1105.0 759.0 L1103.0 760.2 L1101.0 761.3 L1099.0 762.5 L1097.0 763.7 L1095.0 764.9 L1093.0 766.1 L1091.0 767.3 L1089.0 768.5 L1087.0 769.7 L1085.0 770.9 L1083.0 772.1 L1081.0 773.3 L1079.0 774.5 L1077.0 775.7 L1075.0 776.9 L1073.0 778.2 L1071.0 779.4 L1069.0 780.6 L1067.0 781.8 L1065.0 783.0 L1063.0 784.2 L1061.0 785.4 L1059.0 786.6 L1057.0 787.9 L1055.0 789.1 L1053.0 790.3 L1051.0 791.6 L1049.0 792.9 L1047.0 794.2 L1045.0 795.5 L1043.0 796.8 L1041.0 798.1 L1039.0 799.4 L1037.0 800.8 L1035.0 802.1 L1033.0 803.5 L1031.0 804.9 L1029.0 806.3 L1027.0 807.7 L1025.0 809.1 L1023.0 810.6 L1021.0 812.0 L1019.0 813.5 L1017.0 815.0 L1015.0 816.5 L1013.0 818.0 L1011.0 819.5 L1009.0 821.1 L1007.0 822.6 L1005.0 824.2 L1003.0 825.8 L1001.0 827.4 L999.0 829.0 L997.0 830.7 L995.0 832.3 L993.0 834.0 L991.0 835.7 L989.0 837.3 L987.0 839.1 L985.0 840.8 L983.0 842.5 L981.0 844.3 L979.0 846.1 L977.0 847.9 L975.0 849.7 L973.0 851.5 L971.0 853.3 L969.0 855.2 L967.0 857.0 L965.0 858.9 L963.0 860.8 L961.0 862.7 L959.0 864.7 L957.0 866.6 L955.0 868.6 L953.0 870.5 L951.0 872.5 L949.0 874.5 L947.0 876.6 L945.0 878.6 L943.0 880.6 L941.0 882.7 L939.0 884.7 L937.0 886.8 L935.0 888.9 L933.0 891.0 L931.0 893.1 L929.0 895.2 L927.0 897.4 L925.0 899.5 L923.0 901.7 L921.0 903.8 L919.0 906.0 L917.0 908.2 L915.0 910.4 L913.0 912.6 L911.0 914.8 L909.0 917.0 L907.0 919.2 L905.0 921.4 L903.0 923.7 L901.0 925.9 L899.0 928.1 L897.0 930.4 L895.0 932.6 L893.0 934.9 L891.0 937.1 L889.0 939.4 L887.0 941.6 L885.0 943.9 L883.0 946.1 L881.0 948.4 L879.0 950.7 L877.0 952.9 L875.0 955.2 L873.0 957.4 L871.0 959.7 L869.0 962.0 L867.0 964.2 L865.0 966.5 L863.0 968.7 L861.0 971.0 L859.0 973.2 L857.0 975.4 L855.0 977.6 L853.0 979.9 L851.0 982.1 L849.0 984.3 L847.0 986.5 L845.0 988.7 L843.0 990.9 L841.0 993.1 L839.0 995.3 L837.0 997.5 L835.0 999.6 L833.0 1001.8 L831.0 1003.9 L829.0 1006.1 L827.0 1008.2 L825.0 1010.4 L823.0 1012.5 L821.0 1014.6 L819.0 1016.7 L817.0 1018.8 L815.0 1020.9 L813.0 1023.0 L811.0 1025.1 L809.0 1027.1 L807.0 1029.2 L805.0 1031.2 L803.0 1033.3 L801.0 1035.3 L799.0 1037.3 L797.0 1039.3 L795.0 1041.3 L793.0 1043.4 L791.0 1045.3 L789.0 1047.3 L787.0 1049.3 L785.0 1051.3 L783.0 1053.3 L781.0 1055.2 L779.0 1057.2 L777.0 1059.1 L775.0 1061.1 L773.0 1063.0 L771.0 1064.9 L769.0 1066.9 L767.0 1068.8 L765.0 1070.7 L763.0 1072.5 L761.0 1074.4 L759.0 1076.3 L757.0 1078.1 L755.0 1080.0 L753.0 1081.8 L751.0 1083.6 L749.0 1085.4 L747.0 1087.2 L745.0 1089.0 L743.0 1090.8 L741.0 1092.5 L739.0 1094.3 L737.0 1096.0 L735.0 1097.7 L733.0 1099.4 L731.0 1101.1 L729.0 1102.8 L727.0 1104.4 L725.0 1106.1 L723.0 1107.7 L721.0 1109.3 L719.0 1110.9 L717.0 1112.5 L715.0 1114.1 L713.0 1115.6 L711.0 1117.2 L709.0 1118.7 L707.0 1120.2 L705.0 1121.7 L703.0 1123.2 L701.0 1124.6 L699.0 1126.1 L697.0 1127.5 L695.0 1128.9 L693.0 1130.3 L691.0 1131.7 L689.0 1133.0 L687.0 1134.4 L685.0 1135.7 L683.0 1137.0 L681.0 1138.3 L679.0 1139.6 L677.0 1140.8 L675.0 1142.1 L673.0 1143.3 L671.0 1144.5 L669.0 1145.7 L667.0 1146.9 L665.0 1148.0 L663.0 1149.2 L661.0 1150.3 L659.0 1151.4 L657.0 1152.5 L655.0 1153.6 L653.0 1154.7 L651.0 1155.7 L649.0 1156.8 L647.0 1157.8 L645.0 1158.8 L643.0 1159.9 L641.0 1160.8 L639.0 1161.8 L637.0 1162.8 L635.0 1163.8 L633.0 1164.7 L631.0 1165.7 L629.0 1166.6 L627.0 1167.5 L625.0 1168.5 L623.0 1169.4 L621.0 1170.3 L619.0 1171.2 L617.0 1172.1 L615.0 1172.9 L613.0 1173.8 L611.0 1174.7 L609.0 1175.5 L607.0 1176.4 L605.0 1177.2 L603.0 1178.1 L601.0 1178.9 L599.0 1179.8 L597.0 1180.6 L595.0 1181.4 L593.0 1182.2 L591.0 1183.0 L589.0 1183.8 L587.0 1184.6 L585.0 1185.4 L583.0 1186.2 L581.0 1187.0 L579.0 1187.7 L577.0 1188.5 L575.0 1189.2 L573.0 1190.0 L571.0 1190.7 L569.0 1191.5 L567.0 1192.2 L565.0 1192.9 L563.0 1193.6 L561.0 1194.3 L559.0 1195.0 L557.0 1195.7 L555.0 1196.4 L553.0 1197.1 L551.0 1197.7 L549.0 1198.4 L547.0 1199.0 L545.0 1199.7 Z" fill="#000"/><path d="M262.0 1252.5 L264.0 1252.7 L266.0 1252.8 L268.0 1253.0 L270.0 1253.1 L272.0 1253.3 L274.0 1253.4 L276.0 1253.6 L278.0 1253.7 L280.0 1253.8 L282.0 1253.9 L284.0 1254.0 L286.0 1254.1 L288.0 1254.2 L290.0 1254.3 L292.0 1254.4 L294.0 1254.5 L296.0 1254.6 L298.0 1254.6 L300.0 1254.7 L302.0 1254.7 L304.0 1254.8 L306.0 1254.8 L308.0 1254.9 L310.0 1254.9 L312.0 1254.9 L314.0 1254.9 L316.0 1254.9 L318.0 1254.9 L320.0 1254.9 L322.0 1254.9 L324.0 1254.9 L326.0 1254.9 L328.0 1254.9 L330.0 1254.8 L332.0 1254.8 L334.0 1254.8 L336.0 1254.7 L338.0 1254.7 L340.0 1254.6 L342.0 1254.5 L344.0 1254.5 L346.0 1254.4 L348.0 1254.3 L350.0 1254.2 L352.0 1254.1 L354.0 1254.0 L356.0 1253.9 L358.0 1253.8 L360.0 1253.7 L362.0 1253.5 L364.0 1253.4 L366.0 1253.3 L368.0 1253.1 L370.0 1253.0 L372.0 1252.8 L374.0 1252.7 L376.0 1252.5 L378.0 1252.3 L380.0 1252.2 L382.0 1252.0 L384.0 1251.8 L386.0 1251.6 L388.0 1251.3 L390.0 1251.1 L392.0 1250.9 L394.0 1250.6 L396.0 1250.4 L398.0 1250.1 L400.0 1249.8 L402.0 1249.5 L404.0 1249.2 L406.0 1249.0 L408.0 1248.6 L410.0 1248.3 L412.0 1248.0 L414.0 1247.7 L416.0 1247.4 L418.0 1247.1 L420.0 1246.7 L422.0 1246.4 L424.0 1246.1 L426.0 1245.7 L428.0 1245.3 L430.0 1245.0 L432.0 1244.6 L434.0 1244.2 L436.0 1243.8 L438.0 1243.4 L440.0 1243.0 L442.0 1242.6 L444.0 1242.2 L446.0 1241.7 L448.0 1241.3 L450.0 1240.8 L452.0 1240.4 L454.0 1239.9 L456.0 1239.5 L458.0 1239.0 L460.0 1238.5 L462.0 1238.0 L464.0 1237.6 L466.0 1237.1 L468.0 1236.6 L470.0 1236.1 L472.0 1235.6 L474.0 1235.1 L476.0 1234.5 L478.0 1234.0 L480.0 1233.5 L482.0 1233.0 L484.0 1232.4 L486.0 1231.9 L488.0 1231.3 L490.0 1230.7 L492.0 1230.1 L494.0 1229.4 L496.0 1228.8 L498.0 1228.2 L500.0 1227.5 L502.0 1226.9 L504.0 1226.2 L506.0 1225.5 L508.0 1224.9 L510.0 1224.2 L512.0 1223.6 L514.0 1222.9 L516.0 1222.3 L518.0 1221.7 L520.0 1221.0 L522.0 1220.4 L524.0 1219.8 L526.0 1219.2 L528.0 1218.5 L530.0 1217.9 L532.0 1217.2 L534.0 1216.6 L536.0 1215.9 L538.0 1215.2 L540.0 1214.5 L542.0 1213.9 L544.0 1213.2 L546.0 1212.5 L548.0 1211.7 L550.0 1211.0 L552.0 1210.3 L554.0 1209.6 L556.0 1208.8 L558.0 1208.1 L560.0 1207.3 L562.0 1206.6 L564.0 1205.8 L566.0 1205.0 L568.0 1204.3 L570.0 1203.5 L572.0 1202.7 L574.0 1201.9 L576.0 1201.1 L578.0 1200.3 L580.0 1199.5 L582.0 1198.6 L584.0 1197.8 L586.0 1197.0 L588.0 1196.1 L590.0 1195.3 L592.0 1194.4 L594.0 1193.6 L596.0 1192.7 L598.0 1191.8 L600.0 1191.0 L602.0 1190.1 L604.0 1189.2 L606.0 1188.3 L608.0 1187.5 L610.0 1186.6 L612.0 1185.8 L614.0 1184.9 L616.0 1184.1 L618.0 1183.2 L620.0 1182.4 L622.0 1181.5 L624.0 1180.7 L626.0 1179.8 L628.0 1179.0 L630.0 1178.1 L632.0 1177.3 L634.0 1176.4 L636.0 1175.5 L638.0 1174.7 L640.0 1173.8 L642.0 1172.9 L644.0 1172.0 L646.0 1171.1 L648.0 1170.2 L650.0 1169.3 L652.0 1168.3 L654.0 1167.4 L656.0 1166.4 L658.0 1165.5 L660.0 1164.5 L662.0 1163.5 L664.0 1162.5 L666.0 1161.4 L668.0 1160.4 L670.0 1159.3 L672.0 1158.3 L674.0 1157.2 L676.0 1156.1 L678.0 1154.9 L680.0 1153.8 L682.0 1152.6 L684.0 1151.5 L686.0 1150.3 L688.0 1149.1 L690.0 1147.9 L692.0 1146.7 L694.0 1145.4 L696.0 1144.2 L698.0 1143.0 L700.0 1141.7 L702.0 1140.5 L704.0 1139.2 L706.0 1137.9 L708.0 1136.6 L710.0 1135.3 L712.0 1134.0 L714.0 1132.6 L716.0 1131.3 L718.0 1129.9 L720.0 1128.5 L722.0 1127.1 L724.0 1125.7 L726.0 1124.3 L728.0 1122.9 L730.0 1121.5 L732.0 1120.0 L734.0 1118.5 L736.0 1117.0 L738.0 1115.5 L740.0 1114.0 L740.0 1114.0 L738.0 1115.7 L736.0 1117.4 L734.0 1119.1 L732.0 1120.7 L730.0 1122.4 L728.0 1124.0 L726.0 1125.6 L724.0 1127.2 L722.0 1128.8 L720.0 1130.4 L718.0 1131.9 L716.0 1133.5 L714.0 1135.0 L712.0 1136.5 L710.0 1138.0 L708.0 1139.4 L706.0 1140.9 L704.0 1142.3 L702.0 1143.8 L700.0 1145.2 L698.0 1146.6 L696.0 1148.0 L694.0 1149.3 L692.0 1150.7 L690.0 1152.1 L688.0 1153.4 L686.0 1154.7 L684.0 1156.0 L682.0 1157.3 L680.0 1158.6 L678.0 1159.9 L676.0 1161.1 L674.0 1162.3 L672.0 1163.5 L670.0 1164.7 L668.0 1165.9 L666.0 1167.1 L664.0 1168.2 L662.0 1169.4 L660.0 1170.5 L658.0 1171.6 L656.0 1172.7 L654.0 1173.7 L652.0 1174.8 L650.0 1175.8 L648.0 1176.9 L646.0 1177.9 L644.0 1178.9 L642.0 1179.9 L640.0 1180.9 L638.0 1181.9 L636.0 1182.9 L634.0 1183.8 L632.0 1184.8 L630.0 1185.7 L628.0 1186.7 L626.0 1187.6 L624.0 1188.5 L622.0 1189.4 L620.0 1190.3 L618.0 1191.3 L616.0 1192.2 L614.0 1193.1 L612.0 1194.0 L610.0 1194.8 L608.0 1195.7 L606.0 1196.6 L604.0 1197.5 L602.0 1198.4 L600.0 1199.3 L598.0 1200.1 L596.0 1201.0 L594.0 1201.9 L592.0 1202.7 L590.0 1203.5 L588.0 1204.4 L586.0 1205.2 L584.0 1206.0 L582.0 1206.8 L580.0 1207.6 L578.0 1208.4 L576.0 1209.2 L574.0 1209.9 L572.0 1210.7 L570.0 1211.5 L568.0 1212.2 L566.0 1212.9 L564.0 1213.7 L562.0 1214.4 L560.0 1215.1 L558.0 1215.8 L556.0 1216.6 L554.0 1217.3 L552.0 1217.9 L550.0 1218.6 L548.0 1219.3 L546.0 1220.0 L544.0 1220.7 L542.0 1221.3 L540.0 1222.0 L538.0 1222.7 L536.0 1223.3 L534.0 1224.0 L532.0 1224.6 L530.0 1225.2 L528.0 1225.9 L526.0 1226.5 L524.0 1227.1 L522.0 1227.7 L520.0 1228.3 L518.0 1229.0 L516.0 1229.6 L514.0 1230.3 L512.0 1231.0 L510.0 1231.8 L508.0 1232.5 L506.0 1233.3 L504.0 1234.1 L502.0 1234.8 L500.0 1235.6 L498.0 1236.4 L496.0 1237.1 L494.0 1237.9 L492.0 1238.6 L490.0 1239.3 L488.0 1240.0 L486.0 1240.7 L484.0 1241.3 L482.0 1241.9 L480.0 1242.4 L478.0 1242.9 L476.0 1243.4 L474.0 1243.9 L472.0 1244.4 L470.0 1244.8 L468.0 1245.3 L466.0 1245.7 L464.0 1246.2 L462.0 1246.6 L460.0 1247.0 L458.0 1247.4 L456.0 1247.8 L454.0 1248.1 L452.0 1248.5 L450.0 1248.9 L448.0 1249.3 L446.0 1249.6 L444.0 1250.0 L442.0 1250.3 L440.0 1250.6 L438.0 1251.0 L436.0 1251.3 L434.0 1251.6 L432.0 1252.0 L430.0 1252.3 L428.0 1252.6 L426.0 1253.0 L424.0 1253.3 L422.0 1253.6 L420.0 1253.9 L418.0 1254.3 L416.0 1254.6 L414.0 1254.9 L412.0 1255.3 L410.0 1255.6 L408.0 1255.9 L406.0 1256.2 L404.0 1256.6 L402.0 1256.9 L400.0 1257.2 L398.0 1257.5 L396.0 1257.8 L394.0 1258.1 L392.0 1258.3 L390.0 1258.6 L388.0 1258.9 L386.0 1259.1 L384.0 1259.3 L382.0 1259.6 L380.0 1259.8 L378.0 1259.9 L376.0 1260.1 L374.0 1260.3 L372.0 1260.5 L370.0 1260.6 L368.0 1260.8 L366.0 1261.0 L364.0 1261.1 L362.0 1261.3 L360.0 1261.4 L358.0 1261.5 L356.0 1261.6 L354.0 1261.8 L352.0 1261.9 L350.0 1262.0 L348.0 1262.1 L346.0 1262.2 L344.0 1262.3 L342.0 1262.4 L340.0 1262.4 L338.0 1262.5 L336.0 1262.6 L334.0 1262.6 L332.0 1262.7 L330.0 1262.7 L328.0 1262.8 L326.0 1262.8 L324.0 1262.8 L322.0 1262.9 L320.0 1262.9 L318.0 1262.9 L316.0 1262.9 L314.0 1262.9 L312.0 1262.9 L310.0 1262.9 L308.0 1262.9 L306.0 1262.8 L304.0 1262.8 L302.0 1262.8 L300.0 1262.7 L298.0 1262.7 L296.0 1262.6 L294.0 1262.5 L292.0 1262.5 L290.0 1262.4 L288.0 1262.3 L286.0 1262.2 L284.0 1262.1 L282.0 1262.0 L280.0 1261.9 L278.0 1261.8 L276.0 1261.7 L274.0 1261.5 L272.0 1261.4 L270.0 1261.2 L268.0 1261.1 L266.0 1260.9 L264.0 1260.8 L262.0 1260.6 Z" fill="#000"/></mask></defs>
<path d="M262.3 1189.2 L264.1 1189.3 L265.9 1189.4 L267.7 1189.5 L269.5 1189.6 L271.3 1189.7 L273.1 1189.9 L274.8 1190.0 L276.6 1190.0 L278.4 1190.1 L280.2 1190.2 L282.0 1190.3 L283.8 1190.4 L285.6 1190.4 L287.4 1190.5 L289.2 1190.6 L291.0 1190.6 L292.8 1190.7 L294.6 1190.7 L296.4 1190.8 L298.2 1190.8 L300.0 1190.8 L301.8 1190.9 L303.6 1190.9 L305.4 1190.9 L307.2 1190.9 L309.0 1190.9 L310.8 1190.9 L312.6 1190.9 L314.4 1190.9 L316.2 1190.9 L318.0 1190.9 L319.8 1190.9 L321.6 1190.9 L323.4 1190.8 L325.2 1190.8 L327.0 1190.8 L328.8 1190.7 L330.6 1190.7 L332.4 1190.6 L334.2 1190.6 L336.0 1190.5 L337.8 1190.4 L339.7 1190.3 L341.5 1190.3 L343.3 1190.2 L345.1 1190.1 L346.9 1190.0 L348.7 1189.9 L350.5 1189.8 L352.3 1189.7 L354.1 1189.6 L355.9 1189.5 L357.7 1189.4 L359.5 1189.2 L361.3 1189.1 L363.1 1189.0 L364.9 1188.8 L366.7 1188.7 L368.6 1188.6 L370.4 1188.4 L372.2 1188.3 L374.0 1188.1 L375.8 1187.9 L377.6 1187.8 L379.4 1187.6 L381.2 1187.4 L383.0 1187.2 L384.8 1187.0 L386.6 1186.8 L388.4 1186.6 L390.2 1186.4 L392.0 1186.2 L393.8 1186.0 L395.6 1185.8 L397.4 1185.6 L399.2 1185.3 L401.0 1185.1 L402.8 1184.9 L404.6 1184.6 L406.4 1184.4 L408.2 1184.1 L410.0 1183.9 L411.8 1183.6 L413.6 1183.4 L415.4 1183.1 L417.2 1182.8 L419.0 1182.5 L420.8 1182.2 L422.6 1182.0 L424.4 1181.7 L426.2 1181.4 L428.0 1181.1 L429.8 1180.8 L431.6 1180.5 L433.4 1180.1 L435.1 1179.8 L436.9 1179.5 L438.7 1179.2 L440.5 1178.8 L442.3 1178.5 L444.1 1178.1 L445.9 1177.8 L447.7 1177.4 L449.4 1177.1 L451.2 1176.7 L453.0 1176.4 L454.8 1176.0 L456.6 1175.6 L458.3 1175.2 L460.1 1174.8 L461.9 1174.5 L463.7 1174.1 L465.5 1173.7 L467.2 1173.3 L469.0 1172.8 L470.8 1172.4 L472.5 1172.0 L474.3 1171.6 L476.1 1171.2 L477.9 1170.7 L479.6 1170.3 L481.4 1169.9 L483.2 1169.4 L484.9 1169.0 L486.7 1168.5 L488.4 1168.0 L490.2 1167.6 L492.0 1167.1 L493.7 1166.6 L495.5 1166.2 L497.2 1165.7 L499.0 1165.2 L500.7 1164.7 L502.5 1164.2 L504.2 1163.7 L506.0 1163.2 L507.7 1162.7 L509.5 1162.2 L511.2 1161.6 L513.0 1161.1 L514.7 1160.6 L516.4 1160.1 L518.2 1159.5 L519.9 1159.0 L521.6 1158.4 L523.4 1157.9 L525.1 1157.3 L526.8 1156.8 L528.6 1156.2 L530.3 1155.6 L532.0 1155.1 L533.8 1154.5 L535.5 1153.9 L537.2 1153.3 L538.9 1152.7 L540.6 1152.1 L542.3 1151.5 L544.1 1150.9 L545.8 1150.3 L547.5 1149.7 L549.2 1149.1 L550.9 1148.4 L552.6 1147.8 L554.3 1147.2 L556.0 1146.5 L557.7 1145.9 L559.4 1145.2 L561.1 1144.6 L562.8 1143.9 L564.5 1143.3 L566.2 1142.6 L567.9 1141.9 L569.6 1141.2 L571.2 1140.6 L572.9 1139.9 L574.6 1139.2 L576.3 1138.5 L578.0 1137.8 L579.6 1137.1 L581.3 1136.4 L583.0 1135.7 L584.6 1135.0 L586.3 1134.2 L588.0 1133.5 L589.6 1132.8 L591.3 1132.1 L592.9 1131.3 L594.6 1130.6 L596.3 1129.8 L597.9 1129.1 L599.5 1128.3 L601.2 1127.5 L602.8 1126.8 L604.5 1126.0 L606.1 1125.2 L607.8 1124.5 L609.4 1123.7 L611.0 1122.9 L612.6 1122.1 L614.3 1121.3 L615.9 1120.5 L617.5 1119.7 L619.1 1118.9 L620.8 1118.0 L622.4 1117.2 L624.0 1116.4 L625.6 1115.6 L627.2 1114.7 L628.8 1113.9 L630.4 1113.1 L632.0 1112.2 L633.6 1111.4 L635.2 1110.5 L636.8 1109.6 L638.4 1108.8 L640.0 1107.9 L641.5 1107.0 L643.1 1106.1 L644.7 1105.3 L646.3 1104.4 L647.9 1103.5 L649.4 1102.6 L651.0 1101.7 L652.6 1100.8 L654.1 1099.9 L655.7 1098.9 L657.2 1098.0 L658.8 1097.1 L660.3 1096.2 L661.9 1095.2 L663.4 1094.3 L665.0 1093.4 L666.5 1092.4 L668.0 1091.5 L669.6 1090.5 L671.1 1089.5 L672.6 1088.6 L674.1 1087.6 L675.7 1086.6 L677.2 1085.7 L678.7 1084.7 L680.2 1083.7 L681.7 1082.7 L683.2 1081.7 L684.7 1080.7 L686.2 1079.7 L687.7 1078.7 L689.2 1077.7 L690.7 1076.6 L692.2 1075.6 L693.7 1074.6 L695.1 1073.6 L696.6 1072.5 L698.1 1071.5 L699.6 1070.4 L701.0 1069.4 L702.5 1068.3 L703.9 1067.3 L705.4 1066.2 L706.9 1065.1 L708.3 1064.1 L709.8 1063.0 L711.2 1061.9 L712.6 1060.8 L714.1 1059.7 L715.5 1058.6 L716.9 1057.5 L718.4 1056.4 L719.8 1055.3 L721.2 1054.2 L722.6 1053.1 L724.0 1052.0 L725.4 1050.9 L726.8 1049.7 L728.2 1048.6 L729.6 1047.5 L731.0 1046.3 L732.4 1045.2 L733.8 1044.0 L735.2 1042.9 L736.6 1041.7 L737.9 1040.5 L739.3 1039.4 L740.7 1038.2 L742.1 1037.0 L743.4 1035.9 L744.8 1034.7 L746.1 1033.5 L747.5 1032.3 L748.9 1031.1 L750.2 1029.9 L751.6 1028.7 L752.9 1027.5 L754.2 1026.3 L755.6 1025.1 L756.9 1023.9 L758.3 1022.7 L759.6 1021.4 L760.9 1020.2 L762.2 1019.0 L763.6 1017.8 L764.9 1016.5 L766.2 1015.3 L767.5 1014.1 L768.8 1012.8 L770.2 1011.6 L771.5 1010.3 L772.8 1009.1 L774.1 1007.8 L775.4 1006.6 L776.7 1005.3 L778.0 1004.0 L779.3 1002.8 L780.6 1001.5 L781.9 1000.2 L783.2 999.0 L784.4 997.7 L785.7 996.4 L787.0 995.1 L788.3 993.9 L789.6 992.6 L790.8 991.3 L792.1 990.0 L793.4 988.7 L794.7 987.4 L795.9 986.1 L797.2 984.8 L798.5 983.5 L799.7 982.2 L801.0 980.9 L802.3 979.6 L803.5 978.3 L804.8 977.0 L806.0 975.7 L807.3 974.3 L808.6 973.0 L809.8 971.7 L811.1 970.4 L812.3 969.1 L813.6 967.7 L814.8 966.4 L816.0 965.1 L817.3 963.8 L818.5 962.4 L819.8 961.1 L821.0 959.8 L822.3 958.4 L823.5 957.1 L824.7 955.8 L826.0 954.4 L827.2 953.1 L828.4 951.7 L829.7 950.4 L830.9 949.1 L832.1 947.7 L833.4 946.4 L834.6 945.0 L835.8 943.7 L837.0 942.3 L838.3 941.0 L839.5 939.6 L840.7 938.3 L841.9 936.9 L843.2 935.6 L844.4 934.2 L845.6 932.9 L846.8 931.5 L848.1 930.2 L849.3 928.8 L850.5 927.5 L851.7 926.1 L852.9 924.8 L854.2 923.4 L855.4 922.0 L856.6 920.7 L857.8 919.3 L859.0 918.0 L860.3 916.6 L861.5 915.3 L862.7 913.9 L863.9 912.5 L865.1 911.2 L866.3 909.8 L867.6 908.5 L868.8 907.1 L870.0 905.7 L871.2 904.4 L872.4 903.0 L873.6 901.7 L874.9 900.3 L876.1 899.0 L877.3 897.6 L878.5 896.2 L879.7 894.9 L881.0 893.5 L882.2 892.2 L883.4 890.8 L884.6 889.5 L885.8 888.1 L887.1 886.8 L888.3 885.4 L889.5 884.1 L890.7 882.7 L891.9 881.4 L893.2 880.0 L894.4 878.7 L895.6 877.3 L896.8 876.0 L898.1 874.6 L899.3 873.3 L900.5 872.0 L901.7 870.6 L903.0 869.3 L904.2 867.9 L905.4 866.6 L906.7 865.3 L907.9 863.9 L909.1 862.6 L910.4 861.3 L911.6 859.9 L912.8 858.6 L914.1 857.3 L915.3 856.0 L916.5 854.6 L917.8 853.3 L919.0 852.0 L920.3 850.7 L921.5 849.4 L922.8 848.0 L924.0 846.7 L925.2 845.4 L926.5 844.1 L927.7 842.8 L929.0 841.5 L930.3 840.2 L931.5 838.9 L932.8 837.6 L934.0 836.3 L935.3 835.0 L936.5 833.7 L937.8 832.4 L939.1 831.1 L940.3 829.8 L941.6 828.6 L942.9 827.3 L944.2 826.0 L945.4 824.7 L946.7 823.4 L948.0 822.2 L949.3 820.9 L950.5 819.6 L951.8 818.4 L953.1 817.1 L954.4 815.9 L955.7 814.6 L957.0 813.3 L958.3 812.1 L959.6 810.9 L960.9 809.6 L962.2 808.4 L963.5 807.1 L964.8 805.9 L966.1 804.7 L967.4 803.4 L968.7 802.2 L970.0 801.0 L971.3 799.8 L972.7 798.6 L974.0 797.4 L975.3 796.1 L976.6 794.9 L978.0 793.7 L979.3 792.5 L980.6 791.3 L982.0 790.2 L983.3 789.0 L984.6 787.8 L986.0 786.6 L987.3 785.4 L988.7 784.3 L990.0 783.1 L991.4 781.9 L992.8 780.8 L994.1 779.6 L995.5 778.5 L996.9 777.3 L998.2 776.2 L999.6 775.0 L1001.0 773.9 L1002.4 772.8 L1003.7 771.6 L1005.1 770.5 L1006.5 769.4 L1007.9 768.3 L1009.3 767.2 L1010.7 766.1 L1012.1 765.0 L1013.5 763.9 L1014.9 762.8 L1016.4 761.7 L1017.8 760.6 L1019.2 759.5 L1020.6 758.5 L1022.0 757.4 L1023.5 756.3 L1024.9 755.3 L1026.3 754.2 L1027.8 753.2 L1029.2 752.1 L1030.7 751.1 L1032.1 750.0 L1033.6 749.0 L1035.1 748.0 L1036.5 747.0 L1038.0 745.9 L1039.5 744.9 L1040.9 743.9 L1042.4 742.9 L1043.9 741.9 L1045.4 741.0 L1046.9 740.0 L1048.4 739.0 L1049.9 738.0 L1051.4 737.1 L1052.9 736.1 L1054.4 735.1 L1055.9 734.2 L1057.5 733.3 L1059.0 732.3 L1060.5 731.4 L1062.0 730.5 L1063.6 729.5 L1065.1 728.6 L1066.7 727.7 L1068.2 726.8 L1069.8 725.9 L1071.3 725.0 L1072.9 724.1 L1074.5 723.2 L1076.0 722.4 L1077.6 721.5 L1079.2 720.6 L1080.8 719.8 L1082.4 718.9 L1084.0 718.1 L1085.6 717.2 L1087.2 716.4 L1088.8 715.5 L1090.4 714.7 L1092.0 713.9 L1093.6 713.1 L1095.2 712.2 L1096.8 711.4 L1098.4 710.6 L1100.1 709.8 L1101.7 709.0 L1103.3 708.2 L1104.9 707.4 L1106.6 706.6 L1108.2 705.9 L1109.9 705.1 L1111.5 704.3 L1113.2 703.5 L1114.8 702.8 L1116.5 702.0 L1118.1 701.3 L1119.8 700.5 L1121.4 699.8 L1123.1 699.0 L1124.8 698.3 L1126.4 697.5 L1128.1 696.8 L1129.8 696.1 L1131.5 695.4 L1133.1 694.6 L1134.8 693.9 L1136.5 693.2 L1138.2 692.5 L1139.9 691.8 L1141.6 691.1 L1143.2 690.4 L1144.9 689.7 L1146.6 689.0 L1148.3 688.3 L1150.0 687.6 L1151.7 686.9 L1153.4 686.2 L1155.1 685.5 L1156.8 684.9 L1158.5 684.2 L1160.2 683.5 L1161.9 682.9 L1163.7 682.2 L1165.4 681.5 L1167.1 680.9 L1168.8 680.2 L1170.5 679.6 L1172.2 678.9 L1173.9 678.2 L1175.7 677.6 L1177.4 677.0 L1179.1 676.3 L1180.8 675.7 L1182.5 675.0 L1184.3 674.4 L1186.0 673.8 L1187.7 673.1 L1189.4 672.5 L1191.2 671.9 L1192.9 671.2 L1194.6 670.6 L1196.3 670.0 L1198.1 669.4 L1199.8 668.7 L1201.5 668.1 L1203.2 667.5 L1205.0 666.9 L1206.7 666.3 L1208.4 665.7 L1210.1 665.1 L1211.9 664.5 L1213.6 663.8 L1215.3 663.2 L1217.1 662.6 L1218.8 662.0 L1220.5 661.4 L1222.2 660.8 L1224.0 660.2 L1225.7 659.6 L1227.4 659.0 L1229.1 658.4 L1230.9 657.8 L1232.6 657.2 L1234.3 656.6 L1236.0 656.0 L1237.8 655.4 L1239.5 654.8 L1241.2 654.2 L1242.9 653.7 L1244.6 653.1 L1246.4 652.5 L1248.1 651.9 L1249.8 651.3 L1251.5 650.7 L1253.2 650.1 L1254.9 649.5 L1256.7 648.9 L1258.4 648.3 L1260.1 647.8 L1261.8 647.2 L1263.5 646.6 L1265.2 646.0 L1266.9 645.4 L1268.6 644.8 L1270.4 644.3 L1272.1 643.7 L1273.8 643.1 L1275.5 642.5 L1277.2 641.9 L1278.9 641.4 L1280.6 640.8 L1282.3 640.2 L1284.0 639.6 L1285.7 639.1 L1287.5 638.5 L1289.2 637.9 L1290.9 637.4 L1292.6 636.8 L1294.3 636.2 L1296.0 635.7 L1297.7 635.1 L1299.4 634.5 L1301.1 634.0 L1302.8 633.4 L1304.5 632.9 L1306.3 632.3 L1308.0 631.8 L1309.7 631.2 L1311.4 630.7 L1313.1 630.1 L1314.8 629.6 L1316.5 629.0 L1318.2 628.5 L1319.9 627.9 L1321.7 627.4 L1323.4 626.9 L1325.1 626.3 L1326.8 625.8 L1328.5 625.3 L1330.2 624.7 L1331.9 624.2 L1333.7 623.7 L1335.4 623.1 L1337.1 622.6 L1338.8 622.1 L1340.5 621.6 L1342.3 621.1 L1344.0 620.6 L1345.7 620.0 L1347.4 619.5 L1349.2 619.0 L1350.9 618.5 L1352.6 618.0 L1354.3 617.5 L1356.1 617.0 L1357.8 616.5 L1359.5 616.0 L1361.3 615.6 L1363.0 615.1 L1364.7 614.6 L1366.5 614.1 L1368.2 613.6 L1369.9 613.1 L1371.7 612.7 L1373.4 612.2 L1375.2 611.7 L1376.9 611.3 L1378.6 610.8 L1380.4 610.3 L1382.1 609.9 L1383.9 609.4 L1385.6 609.0 L1387.4 608.5 L1389.1 608.1 L1390.9 607.6 L1392.7 607.2 L1394.4 606.7 L1396.2 606.3 L1397.9 605.9 L1399.7 605.4 L1401.5 605.0 L1403.2 604.6 L1405.0 604.1 L1406.8 603.7 L1408.5 603.3 L1410.3 602.9 L1412.1 602.4 L1413.8 602.0 L1415.6 601.6 L1417.4 601.2 L1419.1 600.8 L1420.9 600.3 L1422.7 599.9 L1424.5 599.5 L1426.2 599.1 L1428.0 598.7 L1429.8 598.3 L1431.5 597.8 L1433.3 597.4 L1435.1 597.0 L1436.9 596.6 L1438.7 596.2 L1440.4 595.8 L1442.2 595.4 L1444.0 594.9 L1445.8 594.5 L1447.5 594.1 L1449.3 593.7 L1451.1 593.3 L1452.9 592.8 L1454.6 592.4 L1456.4 592.0 L1458.2 591.6 L1460.0 591.1 L1461.7 590.7 L1463.5 590.3 L1465.3 589.8 L1467.1 589.4 L1468.8 589.0 L1470.6 588.5 L1472.4 588.1 L1474.1 587.6 L1475.9 587.2 L1477.7 586.7 L1479.4 586.3 L1481.2 585.8 L1483.0 585.4 L1484.7 584.9 L1486.5 584.4 L1488.3 584.0 L1490.0 583.5 L1491.8 583.0 L1493.5 582.5 L1495.3 582.0 L1497.1 581.6 L1498.8 581.1 L1500.6 580.6 L1502.3 580.1 L1504.1 579.6 L1505.8 579.1 L1507.6 578.5 L1509.3 578.0 L1511.1 577.5 L1512.8 577.0 L1514.5 576.4 L1516.3 575.9 L1518.0 575.4 L1519.7 574.8 L1521.5 574.3 L1523.2 573.7 L1524.9 573.1 L1526.7 572.6 L1528.4 572.0 L1530.1 571.4 L1531.8 570.8 L1533.5 570.2 L1535.2 569.6 L1536.9 569.0 L1538.6 568.3 L1540.3 567.7 L1542.0 567.0 L1543.6 566.3 L1545.3 565.6 L1547.0 564.9 L1548.6 564.2 L1550.2 563.4 L1551.9 562.7 L1553.5 561.9 L1555.1 561.1 L1556.7 560.3 L1558.2 559.5 L1559.8 558.6 L1561.4 557.7 L1562.9 556.8 L1564.4 555.9 L1566.0 555.0 L1567.5 554.1 L1569.0 553.1 L1570.5 552.1 L1571.9 551.1 L1573.4 550.1 L1574.8 549.1 L1576.3 548.1 L1577.7 547.0 L1579.1 545.9 L1580.5 544.8 L1581.8 543.7 L1583.2 542.5 L1584.5 541.4 L1585.9 540.2 L1587.2 539.0 L1588.5 537.8 L1589.7 536.6 L1591.0 535.3 L1592.2 534.1 L1593.5 532.8 L1594.7 531.5 L1595.9 530.2 L1597.1 528.9 L1598.2 527.5 L1599.4 526.2 L1600.5 524.8 L1601.6 523.4 L1602.7 522.0 L1603.8 520.5 L1604.8 519.1 L1605.9 517.6 L1606.9 516.2 L1607.9 514.7 L1608.9 513.2 L1609.9 511.7 L1610.9 510.1 L1611.8 508.6 L1612.8 507.0 L1613.7 505.5 L1614.7 503.9 L1615.6 502.3 L1616.5 500.7 L1617.4 499.1 L1618.3 497.5 L1619.1 495.9 L1620.0 494.3 L1620.9 492.7 L1621.7 491.0 L1622.5 489.4 L1623.4 487.8 L1624.2 486.1 L1625.0 484.4 L1625.9 482.8 L1626.7 481.1 L1627.5 479.5 L1628.3 477.8 L1629.1 476.1 L1629.9 474.4 L1630.7 472.8 L1631.5 471.1 L1632.3 469.4 L1633.0 467.8 L1633.8 466.1 L1634.6 464.4 L1635.4 462.7 L1636.2 461.1 L1637.0 459.4 L1637.8 457.7 L1638.5 456.1 L1639.3 454.4 L1640.1 452.8 L1640.9 451.1 L1641.7 449.5 L1642.5 447.8 L1643.3 446.2 L1644.1 444.6 L1644.9 442.9 L1645.7 441.3 L1646.5 439.6 L1647.3 438.0 L1648.0 436.4 L1648.8 434.8 L1649.6 433.1 L1650.4 431.5 L1651.2 429.9 L1652.0 428.3 L1652.8 426.6 L1653.6 425.0 L1654.3 423.4 L1655.1 421.8 L1655.9 420.1 L1656.7 418.5 L1657.5 416.9 L1658.2 415.3 L1659.0 413.7 L1659.8 412.1 L1660.6 410.4 L1661.3 408.8 L1662.1 407.2 L1662.9 405.6 L1663.6 404.0 L1664.4 402.3 L1665.2 400.7 L1665.9 399.1 L1666.7 397.5 L1667.4 395.9 L1668.2 394.2 L1668.9 392.6 L1669.6 391.0 L1670.4 389.4 L1671.1 387.7 L1671.8 386.1 L1672.6 384.5 L1673.3 382.8 L1674.0 381.2 L1674.7 379.5 L1675.4 377.9 L1676.1 376.3 L1676.8 374.6 L1677.5 373.0 L1678.2 371.3 L1678.9 369.7 L1679.6 368.0 L1680.3 366.3 L1681.0 364.7 L1681.6 363.0 L1682.3 361.3 L1683.0 359.7 L1683.6 358.0 L1684.3 356.3 L1684.9 354.6 L1685.6 352.9 L1686.2 351.2 L1686.8 349.6 L1687.5 347.9 L1688.1 346.1 L1688.7 344.4 L1689.3 342.7 L1689.9 341.0 L1690.5 339.3 L1691.1 337.6 L1691.6 335.8 L1692.2 334.1 L1692.8 332.3 L1693.4 330.6 L1693.9 328.9 L1694.5 327.1 L1695.0 325.3 L1695.6 323.6 L1696.1 321.8 L1696.6 320.1 L1697.2 318.3 L1697.7 316.5 L1698.2 314.8 L1698.8 313.0 L1699.3 311.2 L1699.8 309.4 L1700.3 307.7 L1700.9 305.9 L1701.4 304.1 L1701.9 302.3 L1702.4 300.6 L1703.0 298.8 L1703.5 297.0 L1704.0 295.2 L1704.6 293.4 L1705.1 291.7 L1705.6 289.9 L1706.2 288.1 L1706.7 286.4 L1707.3 284.6 L1707.8 282.8 L1708.4 281.1 L1708.9 279.3 L1709.5 277.6 L1710.1 275.8 L1710.6 274.1 L1711.2 272.3 L1711.8 270.6 L1712.4 268.8 L1713.0 267.1 L1713.6 265.4 L1714.2 263.7 L1714.8 262.0 L1715.5 260.2 L1716.1 258.5 L1716.8 256.8 L1717.4 255.2 L1718.1 253.5 L1718.8 251.8 L1719.5 250.1 L1720.2 248.5 L1720.9 246.8 L1721.6 245.1 L1722.3 243.5 L1723.1 241.9 L1723.8 240.3 L1724.6 238.6 L1725.4 237.0 L1726.2 235.4 L1727.0 233.8 L1727.8 232.3 L1728.7 230.7 L1729.5 229.1 L1730.4 227.6 L1731.3 226.1 L1732.2 224.5 L1733.1 223.0 L1734.0 221.5 L1735.0 220.0 L1736.0 218.6 L1736.9 217.1 L1737.9 215.6 L1739.0 214.2 L1740.0 212.8 L1741.1 211.4 L1742.1 210.0 L1743.2 208.6 L1744.3 207.2 L1745.4 205.9 L1746.6 204.5 L1747.7 203.2 L1748.9 201.9 L1750.1 200.6 L1751.3 199.3 L1752.6 198.1 L1753.8 196.8 L1755.1 195.6 L1756.4 194.4 L1757.7 193.2 L1759.0 192.1 L1760.4 190.9 L1761.7 189.8 L1763.1 188.7 L1764.5 187.6 L1766.0 186.5 L1767.4 185.5 L1768.9 184.4 L1770.3 183.4 L1771.8 182.4 L1773.3 181.4 L1774.8 180.4 L1776.4 179.4 L1777.9 178.5 L1779.5 177.5 L1781.0 176.6 L1782.6 175.7 L1784.2 174.8 L1785.8 173.9 L1787.3 173.0 L1788.9 172.1 L1790.6 171.3 L1792.2 170.4 L1793.8 169.6 L1795.4 168.7 L1797.0 167.9 L1798.7 167.1 L1800.3 166.3 L1801.9 165.5 L1803.6 164.7 L1805.2 163.9 L1806.8 163.1 L1808.5 162.3 L1810.1 161.5 L1811.8 160.7 L1813.4 160.0 L1815.1 159.2 L1816.8 158.5 L1818.4 157.7 L1820.1 157.0 L1821.7 156.3 L1823.4 155.5 L1825.1 154.8 L1826.7 154.1 L1828.4 153.4 L1830.1 152.7 L1831.8 152.0 L1833.4 151.3 L1835.1 150.6 L1836.8 149.9 L1838.5 149.2 L1840.2 148.6 L1841.9 147.9 L1843.6 147.2 L1845.2 146.6 L1846.9 145.9 L1848.6 145.3 L1850.3 144.6 L1852.0 144.0 L1853.7 143.3 L1855.4 142.7 L1857.1 142.1 L1858.8 141.4 L1860.5 140.8 L1862.2 140.2 L1863.9 139.6 L1865.7 138.9 L1867.4 138.3 L1869.1 137.7 L1870.8 137.1 L1872.5 136.5 L1874.2 135.9 L1875.9 135.3 L1877.6 134.7 L1879.4 134.1 L1881.1 133.5 L1882.8 132.9 L1884.5 132.3 L1886.2 131.7 L1887.9 131.1 L1889.7 130.6 L1891.4 130.0 L1893.1 129.4 L1894.8 128.8 L1896.5 128.2 L1898.3 127.6 L1900.0 127.1 L1901.7 126.5 L1903.4 125.9 L1905.1 125.3 L1906.9 124.8 L1908.6 124.2 L1910.3 123.6 L1912.0 123.0 L1913.7 122.5 L1915.5 121.9 L1917.2 121.3 L1918.9 120.7 L1920.6 120.2 L1922.3 119.6 L1924.1 119.0 L1925.8 118.4 L1927.5 117.9 L1929.2 117.3 L1930.9 116.7 L1932.7 116.2 L1934.4 115.6 L1936.1 115.0 L1937.8 114.5 L1939.5 113.9 L1941.3 113.3 L1943.0 112.8 L1944.7 112.2 L1946.4 111.6 L1948.1 111.1 L1949.9 110.5 L1951.6 109.9 L1953.3 109.4 L1955.0 108.8 L1956.8 108.2 L1958.5 107.7 L1960.2 107.1 L1961.9 106.5 L1963.6 106.0 L1965.4 105.4 L1967.1 104.9 L1968.8 104.3 L1970.5 103.8 L1972.2 103.2 L1974.0 102.6 L1975.7 102.1 L1977.4 101.5 L1979.1 101.0 L1980.9 100.4 L1982.6 99.9 L1984.3 99.3 L1986.0 98.8 L1987.8 98.2 L1989.5 97.7 L1991.2 97.1 L1992.9 96.6 L1994.7 96.1 L1996.4 95.5 L1998.1 95.0 L1999.8 94.4 L2001.6 93.9 L2003.3 93.3 L2005.0 92.8 L2006.8 92.3 L2008.5 91.7 L2010.2 91.2 L2011.9 90.7 L2013.7 90.1 L2015.4 89.6 L2017.1 89.1 L2018.9 88.6 L2020.6 88.0 L2022.3 87.5 L2024.1 87.0 L2025.8 86.5 L2027.5 85.9 L2029.3 85.4 L2031.0 84.9 L2032.7 84.4 L2034.5 83.9 L2036.2 83.3 L2037.9 82.8 L2039.7 82.3 L2041.4 81.8 L2043.1 81.3 L2044.9 80.8 L2046.6 80.3 L2048.4 79.8 L2050.1 79.3 L2051.8 78.8 L2053.6 78.3 L2055.3 77.8 L2057.1 77.3 L2058.8 76.8 L2060.5 76.3 L2062.3 75.8 L2064.0 75.3 L2065.8 74.8 L2067.5 74.3 L2069.3 73.8 L2071.0 73.4 L2072.7 72.9 L2074.5 72.4 L2076.2 71.9 L2078.0 71.4 L2079.7 71.0 L2081.5 70.5 L2083.2 70.0 L2085.0 69.6 L2086.7 69.1 L2088.5 68.6 L2090.2 68.2 L2092.0 67.7 L2093.7 67.3 L2095.5 66.8 L2097.3 66.4 L2099.0 65.9 L2100.8 65.5 L2102.5 65.0 L2104.3 64.6 L2106.0 64.2 L2107.8 63.7 L2109.5 63.3 L2111.3 62.9 L2113.1 62.4 L2114.8 62.0 L2116.6 61.6 L2118.3 61.2 L2120.1 60.8 L2121.9 60.3 L2123.6 59.9 L2125.4 59.5 L2127.2 59.1 L2128.9 58.7 L2130.7 58.3 L2132.4 57.9 L2134.2 57.6 L2136.0 57.2 L2137.7 56.8 L2139.5 56.4 L2141.3 56.0 L2143.0 55.6 L2144.8 55.3 L2146.6 54.9 L2148.4 54.5 L2150.1 54.2 L2151.9 53.8 L2153.7 53.5 L2155.4 53.1 L2157.2 52.8 L2159.0 52.4 L2160.8 52.1 L2162.5 51.8 L2164.3 51.4 L2166.1 51.1 L2167.9 50.8 L2169.6 50.5 L2171.4 50.2 L2173.2 49.8 L2175.0 49.5 L2176.8 49.2 L2178.5 48.9 L2180.3 48.6 L2182.1 48.3 L2183.9 48.1 L2185.7 47.8 L2187.4 47.5 L2189.2 47.2 L2191.0 47.0 L2192.8 46.7 L2194.6 46.4 L2196.4 46.2 L2198.1 45.9 L2199.9 45.7 L2201.7 45.4 L2203.5 45.2 L2205.3 45.0 L2207.1 44.7 L2208.9 44.5 L2210.7 44.3 L2212.5 44.1 L2214.2 43.9 L2216.0 43.6 L2217.8 43.4 L2219.6 43.4 L2221.4 43.4 L2223.2 43.4 L2225.0 43.4 L2226.8 43.4 L2228.6 43.4 L2230.4 43.4 L2232.2 43.4 L2234.0 43.4 L2235.8 43.4 L2237.6 43.4 L2239.4 43.4 L2241.2 43.4 L2243.0 43.4 L2244.8 43.4 L2246.6 43.4 L2248.4 43.4 L2250.2 43.4 L2252.0 43.4 L2253.8 43.4 L2255.6 43.4 L2257.4 43.4 L2259.2 43.4 L2261.0 43.4 L2262.8 43.4 L2264.6 43.4 L2266.4 43.4 L2268.3 43.4 L2270.1 43.4 L2271.9 43.4 L2273.7 43.4 L2275.5 43.4 L2277.3 43.4 L2279.1 43.4 L2280.9 43.4 L2282.7 43.4 L2284.6 43.4 L2286.4 43.4 L2288.2 43.4 L2290.0 43.4 L2291.8 43.4 L2293.6 43.4 L2295.5 43.4 L2297.3 43.4 L2299.1 43.4 L2300.9 43.4 L2302.7 43.4 L2304.6 43.4 L2306.4 43.4 L2308.2 43.4 L2310.0 43.4 L2311.8 43.4 L2313.7 43.4 L2315.5 43.4 L2317.3 43.4 L2319.1 43.4 L2321.0 43.4 L2322.8 43.4 L2324.6 43.4 L2326.4 43.4 L2328.3 43.4 L2330.1 43.4 L2331.9 43.4 L2333.8 43.4 L2335.6 43.4 L2337.4 43.4 L2339.3 43.4 L2341.1 43.4 L2342.9 43.4 L2344.8 43.5 L2346.6 43.7 L2348.4 43.9 L2350.3 44.2 L2351.0 44.4 L2351.0 45.7 L2350.3 45.8 L2348.4 45.9 L2346.5 46.0 L2344.7 46.1 L2342.8 46.3 L2340.9 46.4 L2339.1 46.6 L2337.2 46.7 L2335.4 46.9 L2333.5 47.1 L2331.7 47.3 L2329.8 47.4 L2328.0 47.7 L2326.1 47.9 L2324.3 48.1 L2322.4 48.3 L2320.6 48.5 L2318.8 48.8 L2316.9 49.0 L2315.1 49.3 L2313.3 49.6 L2311.4 49.9 L2309.6 50.1 L2307.8 50.4 L2306.0 50.7 L2304.2 51.0 L2302.3 51.4 L2300.5 51.7 L2298.7 52.0 L2296.9 52.4 L2295.1 52.7 L2293.3 53.1 L2291.5 53.4 L2289.7 53.8 L2287.9 54.2 L2286.1 54.5 L2284.3 54.9 L2282.5 55.3 L2280.7 55.7 L2278.9 56.1 L2277.1 56.6 L2275.4 57.0 L2273.6 57.4 L2271.8 57.8 L2270.0 58.3 L2268.2 58.7 L2266.4 59.2 L2264.7 59.6 L2262.9 60.1 L2261.1 60.6 L2259.4 61.1 L2257.6 61.5 L2255.8 62.0 L2254.0 62.5 L2252.3 63.0 L2250.5 63.5 L2248.8 64.0 L2247.0 64.5 L2245.2 65.1 L2243.5 65.6 L2241.7 66.1 L2240.0 66.7 L2238.2 67.2 L2236.5 67.7 L2234.7 68.3 L2233.0 68.8 L2231.2 69.4 L2229.5 70.0 L2227.7 70.5 L2226.0 71.1 L2224.2 71.7 L2222.5 72.3 L2220.7 72.9 L2219.0 73.4 L2217.3 74.0 L2215.5 74.6 L2213.8 75.2 L2212.0 75.8 L2210.3 76.4 L2208.6 77.1 L2206.8 77.7 L2205.1 78.3 L2203.4 78.9 L2201.6 79.5 L2199.9 80.2 L2198.2 80.8 L2196.4 81.4 L2194.7 82.1 L2193.0 82.7 L2191.3 83.3 L2189.5 84.0 L2187.8 84.6 L2186.1 85.3 L2184.4 85.9 L2182.6 86.6 L2180.9 87.3 L2179.2 87.9 L2177.5 88.6 L2175.7 89.2 L2174.0 89.9 L2172.3 90.6 L2170.6 91.3 L2168.9 91.9 L2167.1 92.6 L2165.4 93.3 L2163.7 94.0 L2162.0 94.6 L2160.3 95.3 L2158.5 96.0 L2156.8 96.7 L2155.1 97.4 L2153.4 98.0 L2151.7 98.7 L2150.0 99.4 L2148.2 100.1 L2146.5 100.8 L2144.8 101.5 L2143.1 102.2 L2141.4 102.9 L2139.7 103.6 L2137.9 104.3 L2136.2 104.9 L2134.5 105.6 L2132.8 106.3 L2131.1 107.0 L2129.4 107.7 L2127.7 108.4 L2125.9 109.1 L2124.2 109.8 L2122.5 110.5 L2120.8 111.2 L2119.1 111.9 L2117.3 112.6 L2115.6 113.3 L2113.9 114.0 L2112.2 114.6 L2110.5 115.3 L2108.8 116.0 L2107.0 116.7 L2105.3 117.4 L2103.6 118.1 L2101.9 118.8 L2100.2 119.4 L2098.4 120.1 L2096.7 120.8 L2095.0 121.5 L2093.3 122.2 L2091.5 122.8 L2089.8 123.5 L2088.1 124.2 L2086.4 124.9 L2084.6 125.5 L2082.9 126.2 L2081.2 126.9 L2079.5 127.5 L2077.7 128.2 L2076.0 128.8 L2074.3 129.5 L2072.5 130.2 L2070.8 130.8 L2069.1 131.5 L2067.3 132.1 L2065.6 132.8 L2063.9 133.4 L2062.2 134.1 L2060.4 134.7 L2058.7 135.4 L2057.0 136.0 L2055.2 136.7 L2053.5 137.3 L2051.8 138.0 L2050.0 138.6 L2048.3 139.2 L2046.5 139.9 L2044.8 140.5 L2043.1 141.2 L2041.3 141.8 L2039.6 142.5 L2037.9 143.1 L2036.1 143.7 L2034.4 144.4 L2032.7 145.0 L2030.9 145.7 L2029.2 146.3 L2027.5 146.9 L2025.7 147.6 L2024.0 148.2 L2022.2 148.8 L2020.5 149.5 L2018.8 150.1 L2017.0 150.8 L2015.3 151.4 L2013.6 152.0 L2011.8 152.7 L2010.1 153.3 L2008.4 154.0 L2006.6 154.6 L2004.9 155.2 L2003.2 155.9 L2001.4 156.5 L1999.7 157.2 L1998.0 157.8 L1996.2 158.4 L1994.5 159.1 L1992.8 159.7 L1991.0 160.4 L1989.3 161.0 L1987.6 161.7 L1985.8 162.3 L1984.1 163.0 L1982.4 163.6 L1980.6 164.3 L1978.9 164.9 L1977.2 165.6 L1975.5 166.2 L1973.7 166.9 L1972.0 167.5 L1970.3 168.2 L1968.6 168.8 L1966.8 169.5 L1965.1 170.2 L1963.4 170.8 L1961.7 171.5 L1959.9 172.2 L1958.2 172.8 L1956.5 173.5 L1954.8 174.2 L1953.0 174.8 L1951.3 175.5 L1949.6 176.2 L1947.9 176.9 L1946.2 177.6 L1944.5 178.2 L1942.7 178.9 L1941.0 179.6 L1939.3 180.3 L1937.6 181.0 L1935.9 181.7 L1934.2 182.4 L1932.5 183.1 L1930.8 183.8 L1929.1 184.5 L1927.4 185.2 L1925.6 185.9 L1923.9 186.6 L1922.2 187.3 L1920.5 188.0 L1918.8 188.8 L1917.1 189.5 L1915.4 190.2 L1913.7 190.9 L1912.0 191.7 L1910.3 192.4 L1908.7 193.1 L1907.0 193.9 L1905.3 194.6 L1903.6 195.3 L1901.9 196.1 L1900.2 196.8 L1898.5 197.6 L1896.8 198.4 L1895.1 199.1 L1893.5 199.9 L1891.8 200.6 L1890.1 201.4 L1888.4 202.2 L1886.7 203.0 L1885.1 203.7 L1883.4 204.5 L1881.7 205.3 L1880.1 206.1 L1878.4 206.9 L1876.7 207.7 L1875.0 208.5 L1873.4 209.3 L1871.7 210.1 L1870.1 211.0 L1868.4 211.8 L1866.7 212.6 L1865.1 213.4 L1863.4 214.3 L1861.8 215.1 L1860.1 215.9 L1858.5 216.8 L1856.8 217.6 L1855.2 218.5 L1853.5 219.3 L1851.9 220.2 L1850.3 221.1 L1848.6 221.9 L1847.0 222.8 L1845.3 223.7 L1843.7 224.6 L1842.1 225.5 L1840.4 226.4 L1838.8 227.3 L1837.2 228.2 L1835.6 229.1 L1833.9 230.0 L1832.3 230.9 L1830.7 231.9 L1829.1 232.8 L1827.5 233.7 L1825.9 234.7 L1824.3 235.6 L1822.7 236.6 L1821.1 237.5 L1819.5 238.5 L1817.9 239.5 L1816.3 240.5 L1814.8 241.4 L1813.2 242.4 L1811.6 243.4 L1810.1 244.4 L1808.5 245.4 L1807.0 246.5 L1805.4 247.5 L1803.9 248.5 L1802.4 249.6 L1800.9 250.6 L1799.3 251.7 L1797.8 252.7 L1796.3 253.8 L1794.9 254.9 L1793.4 256.0 L1791.9 257.1 L1790.4 258.2 L1789.0 259.3 L1787.5 260.4 L1786.1 261.5 L1784.7 262.6 L1783.3 263.8 L1781.8 264.9 L1780.4 266.1 L1779.1 267.3 L1777.7 268.4 L1776.3 269.6 L1775.0 270.8 L1773.6 272.0 L1772.3 273.2 L1771.0 274.5 L1769.7 275.7 L1768.4 276.9 L1767.1 278.2 L1765.8 279.4 L1764.5 280.7 L1763.3 282.0 L1762.1 283.3 L1760.8 284.6 L1759.6 285.9 L1758.4 287.2 L1757.3 288.6 L1756.1 289.9 L1754.9 291.2 L1753.8 292.6 L1752.7 294.0 L1751.6 295.4 L1750.5 296.8 L1749.4 298.2 L1748.4 299.6 L1747.3 301.0 L1746.3 302.5 L1745.3 303.9 L1744.3 305.4 L1743.3 306.9 L1742.3 308.4 L1741.4 309.9 L1740.5 311.4 L1739.6 312.9 L1738.7 314.4 L1737.8 316.0 L1736.9 317.6 L1736.1 319.1 L1735.3 320.7 L1734.5 322.3 L1733.7 323.9 L1732.9 325.6 L1732.2 327.2 L1731.5 328.9 L1730.8 330.5 L1730.1 332.2 L1729.4 333.9 L1728.8 335.6 L1728.2 337.3 L1727.6 339.1 L1727.0 340.8 L1726.5 342.6 L1725.9 344.3 L1725.4 346.1 L1724.9 347.9 L1724.4 349.7 L1724.0 351.6 L1723.5 353.4 L1723.1 355.2 L1722.6 357.1 L1722.2 358.9 L1721.8 360.8 L1721.4 362.7 L1721.1 364.5 L1720.7 366.4 L1720.3 368.3 L1720.0 370.2 L1719.6 372.1 L1719.3 374.0 L1719.0 375.9 L1718.6 377.8 L1718.3 379.7 L1718.0 381.6 L1717.6 383.5 L1717.3 385.4 L1717.0 387.3 L1716.6 389.2 L1716.3 391.2 L1716.0 393.1 L1715.6 395.0 L1715.3 396.8 L1714.9 398.7 L1714.6 400.6 L1714.2 402.5 L1713.8 404.4 L1713.5 406.3 L1713.1 408.1 L1712.7 410.0 L1712.3 411.8 L1711.9 413.7 L1711.4 415.5 L1711.0 417.4 L1710.6 419.2 L1710.1 421.0 L1709.7 422.8 L1709.2 424.6 L1708.7 426.5 L1708.2 428.3 L1707.7 430.0 L1707.2 431.8 L1706.7 433.6 L1706.2 435.4 L1705.6 437.2 L1705.1 438.9 L1704.5 440.7 L1704.0 442.4 L1703.4 444.1 L1702.8 445.9 L1702.2 447.6 L1701.6 449.3 L1701.0 451.0 L1700.3 452.7 L1699.7 454.4 L1699.1 456.1 L1698.4 457.8 L1697.8 459.5 L1697.1 461.2 L1696.4 462.9 L1695.7 464.6 L1695.0 466.2 L1694.3 467.9 L1693.6 469.6 L1692.9 471.2 L1692.2 472.9 L1691.5 474.5 L1690.7 476.2 L1690.0 477.8 L1689.2 479.5 L1688.5 481.1 L1687.7 482.8 L1687.0 484.4 L1686.2 486.0 L1685.4 487.7 L1684.7 489.3 L1683.9 490.9 L1683.1 492.6 L1682.3 494.2 L1681.5 495.8 L1680.7 497.5 L1679.9 499.1 L1679.1 500.7 L1678.3 502.4 L1677.5 504.0 L1676.7 505.6 L1675.9 507.3 L1675.1 508.9 L1674.3 510.5 L1673.4 512.2 L1672.6 513.8 L1671.8 515.5 L1671.0 517.1 L1670.2 518.7 L1669.3 520.4 L1668.5 522.0 L1667.7 523.7 L1666.9 525.4 L1666.0 527.0 L1665.2 528.7 L1664.4 530.4 L1663.6 532.0 L1662.8 533.7 L1661.9 535.4 L1661.1 537.1 L1660.3 538.7 L1659.5 540.4 L1658.6 542.1 L1657.8 543.8 L1657.0 545.5 L1656.2 547.2 L1655.4 548.9 L1654.5 550.6 L1653.7 552.3 L1652.9 554.0 L1652.0 555.7 L1651.2 557.4 L1650.4 559.1 L1649.5 560.8 L1648.7 562.5 L1647.9 564.2 L1647.0 565.9 L1646.2 567.6 L1645.3 569.3 L1644.5 571.0 L1643.6 572.7 L1642.8 574.4 L1641.9 576.1 L1641.1 577.8 L1640.2 579.5 L1639.3 581.1 L1638.4 582.8 L1637.6 584.5 L1636.7 586.2 L1635.8 587.8 L1634.9 589.5 L1634.0 591.1 L1633.1 592.8 L1632.2 594.4 L1631.3 596.1 L1630.3 597.7 L1629.4 599.3 L1628.5 601.0 L1627.5 602.6 L1626.6 604.2 L1625.6 605.8 L1624.7 607.4 L1623.7 609.0 L1622.7 610.5 L1621.8 612.1 L1620.8 613.7 L1619.8 615.2 L1618.8 616.8 L1617.8 618.3 L1616.8 619.8 L1615.7 621.4 L1614.7 622.9 L1613.6 624.4 L1612.6 625.9 L1611.5 627.3 L1610.5 628.8 L1609.4 630.3 L1608.3 631.7 L1607.2 633.2 L1606.1 634.6 L1605.0 636.0 L1603.8 637.4 L1602.7 638.8 L1601.6 640.2 L1600.4 641.5 L1599.2 642.9 L1598.1 644.2 L1596.9 645.5 L1595.7 646.8 L1594.5 648.1 L1593.2 649.4 L1592.0 650.7 L1590.7 651.9 L1589.5 653.2 L1588.2 654.4 L1586.9 655.6 L1585.6 656.8 L1584.3 657.9 L1583.0 659.1 L1581.7 660.2 L1580.3 661.4 L1579.0 662.5 L1577.6 663.6 L1576.2 664.6 L1574.8 665.7 L1573.4 666.7 L1571.9 667.7 L1570.5 668.7 L1569.0 669.7 L1567.6 670.7 L1566.1 671.6 L1564.6 672.6 L1563.1 673.5 L1561.5 674.3 L1560.0 675.2 L1558.4 676.0 L1556.8 676.9 L1555.2 677.7 L1553.6 678.5 L1552.0 679.2 L1550.4 680.0 L1548.7 680.7 L1547.0 681.4 L1545.4 682.1 L1543.7 682.8 L1542.0 683.5 L1540.3 684.1 L1538.6 684.8 L1536.8 685.4 L1535.1 686.0 L1533.3 686.6 L1531.6 687.2 L1529.8 687.7 L1528.0 688.3 L1526.2 688.8 L1524.4 689.4 L1522.6 689.9 L1520.8 690.4 L1519.0 690.9 L1517.2 691.4 L1515.3 691.9 L1513.5 692.4 L1511.7 692.8 L1509.8 693.3 L1507.9 693.8 L1506.1 694.2 L1504.2 694.6 L1502.4 695.1 L1500.5 695.5 L1498.6 695.9 L1496.7 696.4 L1494.8 696.8 L1493.0 697.2 L1491.1 697.6 L1489.2 698.0 L1487.3 698.4 L1485.4 698.8 L1483.5 699.2 L1481.6 699.6 L1479.7 700.0 L1477.9 700.4 L1476.0 700.8 L1474.1 701.2 L1472.2 701.6 L1470.3 702.0 L1468.4 702.4 L1466.6 702.8 L1464.7 703.2 L1462.8 703.7 L1460.9 704.1 L1459.1 704.5 L1457.2 704.9 L1455.4 705.4 L1453.5 705.8 L1451.7 706.2 L1449.8 706.7 L1448.0 707.1 L1446.2 707.6 L1444.3 708.1 L1442.5 708.5 L1440.7 709.0 L1438.9 709.5 L1437.1 709.9 L1435.3 710.4 L1433.5 710.9 L1431.7 711.4 L1429.9 711.9 L1428.1 712.4 L1426.3 712.9 L1424.5 713.4 L1422.7 713.9 L1421.0 714.5 L1419.2 715.0 L1417.4 715.5 L1415.6 716.0 L1413.9 716.6 L1412.1 717.1 L1410.4 717.6 L1408.6 718.2 L1406.8 718.7 L1405.1 719.3 L1403.4 719.8 L1401.6 720.4 L1399.9 721.0 L1398.1 721.5 L1396.4 722.1 L1394.7 722.7 L1392.9 723.2 L1391.2 723.8 L1389.5 724.4 L1387.7 725.0 L1386.0 725.6 L1384.3 726.2 L1382.6 726.8 L1380.9 727.3 L1379.1 727.9 L1377.4 728.5 L1375.7 729.1 L1374.0 729.8 L1372.3 730.4 L1370.6 731.0 L1368.9 731.6 L1367.2 732.2 L1365.5 732.8 L1363.8 733.4 L1362.1 734.1 L1360.4 734.7 L1358.7 735.3 L1357.0 735.9 L1355.3 736.6 L1353.6 737.2 L1351.9 737.8 L1350.2 738.5 L1348.5 739.1 L1346.8 739.7 L1345.1 740.4 L1343.4 741.0 L1341.7 741.6 L1340.0 742.3 L1338.3 742.9 L1336.7 743.6 L1335.0 744.2 L1333.3 744.9 L1331.6 745.5 L1329.9 746.2 L1328.2 746.8 L1326.5 747.5 L1324.8 748.1 L1323.1 748.8 L1321.4 749.4 L1319.7 750.1 L1318.0 750.7 L1316.3 751.4 L1314.6 752.0 L1312.9 752.7 L1311.2 753.4 L1309.5 754.0 L1307.8 754.7 L1306.1 755.3 L1304.4 756.0 L1302.7 756.6 L1301.0 757.3 L1299.3 758.0 L1297.6 758.6 L1295.9 759.3 L1294.2 759.9 L1292.5 760.6 L1290.8 761.3 L1289.1 761.9 L1287.3 762.6 L1285.6 763.2 L1283.9 763.9 L1282.2 764.5 L1280.5 765.2 L1278.8 765.9 L1277.0 766.5 L1275.3 767.2 L1273.6 767.8 L1271.9 768.5 L1270.1 769.2 L1268.4 769.8 L1266.7 770.5 L1265.0 771.2 L1263.2 771.8 L1261.5 772.5 L1259.8 773.2 L1258.0 773.8 L1256.3 774.5 L1254.6 775.2 L1252.8 775.8 L1251.1 776.5 L1249.4 777.2 L1247.6 777.8 L1245.9 778.5 L1244.2 779.2 L1242.4 779.8 L1240.7 780.5 L1239.0 781.2 L1237.2 781.9 L1235.5 782.5 L1233.8 783.2 L1232.0 783.9 L1230.3 784.6 L1228.6 785.3 L1226.8 785.9 L1225.1 786.6 L1223.3 787.3 L1221.6 788.0 L1219.9 788.7 L1218.1 789.4 L1216.4 790.1 L1214.7 790.8 L1212.9 791.5 L1211.2 792.1 L1209.5 792.8 L1207.7 793.5 L1206.0 794.2 L1204.3 794.9 L1202.5 795.6 L1200.8 796.3 L1199.1 797.0 L1197.3 797.8 L1195.6 798.5 L1193.9 799.2 L1192.1 799.9 L1190.4 800.6 L1188.7 801.3 L1186.9 802.0 L1185.2 802.8 L1183.5 803.5 L1181.8 804.2 L1180.0 804.9 L1178.3 805.7 L1176.6 806.4 L1174.9 807.1 L1173.1 807.8 L1171.4 808.6 L1169.7 809.3 L1168.0 810.1 L1166.3 810.8 L1164.6 811.5 L1162.8 812.3 L1161.1 813.0 L1159.4 813.8 L1157.7 814.5 L1156.0 815.3 L1154.3 816.1 L1152.6 816.8 L1150.9 817.6 L1149.2 818.3 L1147.5 819.1 L1145.8 819.9 L1144.0 820.7 L1142.4 821.4 L1140.7 822.2 L1139.0 823.0 L1137.3 823.8 L1135.6 824.6 L1133.9 825.4 L1132.2 826.1 L1130.5 826.9 L1128.8 827.7 L1127.1 828.5 L1125.4 829.3 L1123.8 830.1 L1122.1 831.0 L1120.4 831.8 L1118.7 832.6 L1117.1 833.4 L1115.4 834.2 L1113.7 835.0 L1112.1 835.9 L1110.4 836.7 L1108.7 837.5 L1107.1 838.4 L1105.4 839.2 L1103.7 840.1 L1102.1 840.9 L1100.4 841.8 L1098.8 842.6 L1097.1 843.5 L1095.5 844.3 L1093.9 845.2 L1092.2 846.1 L1090.6 846.9 L1089.0 847.8 L1087.3 848.7 L1085.7 849.6 L1084.1 850.4 L1082.4 851.3 L1080.8 852.2 L1079.2 853.1 L1077.6 854.0 L1076.0 854.9 L1074.4 855.8 L1072.8 856.7 L1071.2 857.7 L1069.5 858.6 L1068.0 859.5 L1066.4 860.4 L1064.8 861.4 L1063.2 862.3 L1061.6 863.2 L1060.0 864.2 L1058.4 865.1 L1056.8 866.1 L1055.3 867.0 L1053.7 868.0 L1052.1 868.9 L1050.6 869.9 L1049.0 870.9 L1047.5 871.9 L1045.9 872.8 L1044.3 873.8 L1042.8 874.8 L1041.3 875.8 L1039.7 876.8 L1038.2 877.8 L1036.6 878.8 L1035.1 879.8 L1033.6 880.8 L1032.1 881.9 L1030.6 882.9 L1029.0 883.9 L1027.5 884.9 L1026.0 886.0 L1024.5 887.0 L1023.0 888.1 L1021.5 889.1 L1020.0 890.2 L1018.5 891.2 L1017.1 892.3 L1015.6 893.4 L1014.1 894.5 L1012.6 895.5 L1011.2 896.6 L1009.7 897.7 L1008.2 898.8 L1006.8 899.9 L1005.3 901.0 L1003.9 902.1 L1002.5 903.3 L1001.0 904.4 L999.6 905.5 L998.2 906.6 L996.7 907.8 L995.3 908.9 L993.9 910.1 L992.5 911.2 L991.1 912.4 L989.7 913.6 L988.3 914.7 L986.9 915.9 L985.5 917.1 L984.1 918.3 L982.7 919.5 L981.4 920.7 L980.0 921.9 L978.6 923.1 L977.3 924.3 L975.9 925.5 L974.6 926.7 L973.2 928.0 L971.9 929.2 L970.6 930.4 L969.2 931.7 L967.9 932.9 L966.6 934.2 L965.3 935.5 L963.9 936.7 L962.6 938.0 L961.3 939.3 L960.0 940.6 L958.7 941.8 L957.4 943.1 L956.1 944.4 L954.9 945.7 L953.6 947.0 L952.3 948.3 L951.0 949.6 L949.7 951.0 L948.5 952.3 L947.2 953.6 L945.9 954.9 L944.7 956.3 L943.4 957.6 L942.2 958.9 L940.9 960.3 L939.7 961.6 L938.4 963.0 L937.2 964.3 L935.9 965.7 L934.7 967.0 L933.4 968.4 L932.2 969.7 L931.0 971.1 L929.8 972.5 L928.5 973.8 L927.3 975.2 L926.1 976.6 L924.8 978.0 L923.6 979.3 L922.4 980.7 L921.2 982.1 L920.0 983.5 L918.8 984.9 L917.5 986.3 L916.3 987.7 L915.1 989.1 L913.9 990.4 L912.7 991.8 L911.5 993.2 L910.3 994.6 L909.1 996.0 L907.9 997.4 L906.7 998.9 L905.5 1000.3 L904.3 1001.7 L903.1 1003.1 L901.9 1004.5 L900.7 1005.9 L899.5 1007.3 L898.3 1008.7 L897.1 1010.1 L895.9 1011.5 L894.7 1012.9 L893.5 1014.4 L892.3 1015.8 L891.1 1017.2 L889.9 1018.6 L888.7 1020.0 L887.5 1021.4 L886.3 1022.8 L885.1 1024.3 L883.9 1025.7 L882.7 1027.1 L881.5 1028.5 L880.3 1029.9 L879.1 1031.3 L877.9 1032.7 L876.7 1034.1 L875.5 1035.6 L874.2 1037.0 L873.0 1038.4 L871.8 1039.8 L870.6 1041.2 L869.4 1042.6 L868.2 1044.0 L867.0 1045.4 L865.7 1046.8 L864.5 1048.2 L863.3 1049.6 L862.1 1051.0 L860.9 1052.4 L859.6 1053.8 L858.4 1055.2 L857.2 1056.6 L855.9 1057.9 L854.7 1059.3 L853.5 1060.7 L852.2 1062.1 L851.0 1063.5 L849.7 1064.9 L848.5 1066.2 L847.2 1067.6 L846.0 1069.0 L844.7 1070.3 L843.5 1071.7 L842.2 1073.1 L841.0 1074.4 L839.7 1075.8 L838.4 1077.2 L837.2 1078.5 L835.9 1079.9 L834.6 1081.2 L833.4 1082.6 L832.1 1083.9 L830.8 1085.3 L829.5 1086.6 L828.3 1088.0 L827.0 1089.3 L825.7 1090.6 L824.4 1092.0 L823.1 1093.3 L821.8 1094.6 L820.5 1095.9 L819.2 1097.3 L817.9 1098.6 L816.6 1099.9 L815.3 1101.2 L814.0 1102.5 L812.7 1103.8 L811.4 1105.2 L810.1 1106.5 L808.7 1107.8 L807.4 1109.1 L806.1 1110.4 L804.8 1111.6 L803.5 1112.9 L802.1 1114.2 L800.8 1115.5 L799.5 1116.8 L798.1 1118.1 L796.8 1119.3 L795.4 1120.6 L794.1 1121.9 L792.8 1123.2 L791.4 1124.4 L790.0 1125.7 L788.7 1126.9 L787.3 1128.2 L786.0 1129.4 L784.6 1130.7 L783.3 1131.9 L781.9 1133.2 L780.5 1134.4 L779.1 1135.6 L777.8 1136.9 L776.4 1138.1 L775.0 1139.3 L773.6 1140.6 L772.2 1141.8 L770.8 1143.0 L769.5 1144.2 L768.1 1145.4 L766.7 1146.6 L765.3 1147.8 L763.9 1149.0 L762.5 1150.2 L761.1 1151.4 L759.6 1152.6 L758.2 1153.8 L756.8 1154.9 L755.4 1156.1 L754.0 1157.3 L752.5 1158.5 L751.1 1159.6 L749.7 1160.8 L748.3 1161.9 L746.8 1163.1 L745.4 1164.2 L743.9 1165.4 L742.5 1166.5 L741.1 1167.7 L739.6 1168.8 L738.1 1169.9 L736.7 1171.0 L735.2 1172.2 L733.8 1173.3 L732.3 1174.4 L730.8 1175.5 L729.4 1176.6 L727.9 1177.7 L726.4 1178.8 L724.9 1179.9 L723.5 1181.0 L722.0 1182.1 L720.5 1183.1 L719.0 1184.2 L717.5 1185.3 L716.0 1186.4 L714.5 1187.4 L713.0 1188.5 L711.5 1189.5 L710.0 1190.6 L708.5 1191.6 L706.9 1192.7 L705.4 1193.7 L703.9 1194.7 L702.4 1195.8 L700.9 1196.8 L699.3 1197.8 L697.8 1198.8 L696.3 1199.8 L694.7 1200.8 L693.2 1201.8 L691.6 1202.8 L690.1 1203.8 L688.5 1204.8 L687.0 1205.8 L685.4 1206.8 L683.9 1207.7 L682.3 1208.7 L680.7 1209.7 L679.2 1210.6 L677.6 1211.6 L676.0 1212.5 L674.4 1213.5 L672.9 1214.4 L671.3 1215.4 L669.7 1216.3 L668.1 1217.2 L666.5 1218.2 L664.9 1219.1 L663.3 1220.0 L661.7 1220.9 L660.2 1221.8 L658.5 1222.7 L656.9 1223.6 L655.3 1224.5 L653.7 1225.4 L652.1 1226.3 L650.5 1227.2 L648.9 1228.1 L647.3 1228.9 L645.6 1229.8 L644.0 1230.7 L642.4 1231.5 L640.8 1232.4 L639.1 1233.2 L637.5 1234.1 L635.9 1234.9 L634.2 1235.7 L632.6 1236.6 L630.9 1237.4 L629.3 1238.2 L627.6 1239.0 L626.0 1239.9 L624.3 1240.7 L622.7 1241.5 L621.0 1242.3 L619.4 1243.1 L617.7 1243.9 L616.1 1244.6 L614.4 1245.4 L612.7 1246.2 L611.0 1247.0 L609.4 1247.8 L607.7 1248.5 L606.0 1249.3 L604.3 1250.0 L602.7 1250.8 L601.0 1251.5 L599.3 1252.3 L597.6 1253.0 L595.9 1253.7 L594.2 1254.5 L592.5 1255.2 L590.8 1255.9 L589.1 1256.6 L587.4 1257.3 L585.7 1258.0 L584.0 1258.7 L582.3 1259.4 L580.6 1260.1 L578.9 1260.8 L577.2 1261.5 L575.5 1262.2 L573.8 1262.9 L572.1 1263.5 L570.3 1264.2 L568.6 1264.8 L566.9 1265.5 L565.2 1266.2 L563.4 1266.8 L561.7 1267.4 L560.0 1268.1 L558.3 1268.7 L556.5 1269.3 L554.8 1270.0 L553.1 1270.6 L551.3 1271.2 L549.6 1271.8 L547.8 1272.4 L546.1 1273.0 L544.3 1273.6 L542.6 1274.2 L540.8 1274.8 L539.1 1275.4 L537.3 1275.9 L535.6 1276.5 L533.8 1277.1 L532.1 1277.6 L530.3 1278.2 L528.6 1278.8 L526.8 1279.3 L525.0 1279.8 L523.3 1280.4 L521.5 1280.9 L519.7 1281.5 L518.0 1282.0 L516.2 1282.5 L514.4 1283.0 L512.7 1283.5 L510.9 1284.0 L509.1 1284.5 L507.3 1285.0 L505.5 1285.5 L503.8 1286.0 L502.0 1286.5 L500.2 1287.0 L498.4 1287.5 L496.6 1287.9 L494.8 1288.4 L493.1 1288.9 L491.3 1289.3 L489.5 1289.8 L487.7 1290.2 L485.9 1290.7 L484.1 1291.1 L482.3 1291.5 L480.5 1292.0 L478.7 1292.4 L476.9 1292.8 L475.1 1293.2 L473.3 1293.6 L471.5 1294.0 L469.7 1294.4 L467.9 1294.8 L466.1 1295.2 L464.3 1295.6 L462.5 1296.0 L460.7 1296.4 L458.9 1296.7 L457.0 1297.1 L455.2 1297.5 L453.4 1297.8 L451.6 1298.2 L449.8 1298.5 L448.0 1298.9 L446.2 1299.2 L444.3 1299.5 L442.5 1299.9 L440.7 1300.2 L438.9 1300.5 L437.1 1300.8 L435.2 1301.1 L433.4 1301.4 L431.6 1301.7 L429.8 1302.0 L427.9 1302.3 L426.1 1302.6 L424.3 1302.9 L422.5 1303.2 L420.6 1303.4 L418.8 1303.7 L417.0 1304.0 L415.1 1304.2 L413.3 1304.5 L411.5 1304.7 L409.6 1305.0 L407.8 1305.2 L406.0 1305.4 L404.1 1305.7 L402.3 1305.9 L400.5 1306.1 L398.6 1306.3 L396.8 1306.5 L395.0 1306.7 L393.1 1306.9 L391.3 1307.1 L389.4 1307.3 L387.6 1307.5 L385.8 1307.7 L383.9 1307.9 L382.1 1308.0 L380.2 1308.2 L378.4 1308.4 L376.5 1308.5 L374.7 1308.7 L372.9 1308.8 L371.0 1309.0 L369.2 1309.1 L367.3 1309.2 L365.5 1309.3 L363.6 1309.5 L361.8 1309.6 L359.9 1309.7 L358.1 1309.8 L356.2 1309.9 L354.4 1310.0 L352.5 1310.1 L350.7 1310.2 L348.8 1310.3 L347.0 1310.4 L345.2 1310.4 L343.3 1310.5 L341.5 1310.6 L339.6 1310.6 L337.8 1310.7 L335.9 1310.7 L334.1 1310.8 L332.2 1310.8 L330.4 1310.8 L328.5 1310.9 L326.7 1310.9 L324.8 1310.9 L323.0 1310.9 L321.1 1310.9 L319.2 1310.9 L317.4 1310.9 L315.5 1310.9 L313.7 1310.9 L311.8 1310.9 L310.0 1310.9 L308.1 1310.9 L306.3 1310.8 L304.4 1310.8 L302.6 1310.8 L300.7 1310.7 L298.9 1310.7 L297.0 1310.6 L295.2 1310.6 L293.3 1310.5 L291.5 1310.4 L289.6 1310.4 L287.8 1310.3 L285.9 1310.2 L284.1 1310.1 L282.2 1310.0 L280.4 1309.9 L278.5 1309.8 L276.7 1309.7 L274.9 1309.6 L273.0 1309.5 L271.2 1309.4 L269.3 1309.2 L267.5 1309.1 L265.6 1309.0 L263.8 1308.8 L261.9 1308.7 Z" fill="#ED7D31" mask="url(#gm)"/>
<path d="M262.0 1431.5 L262.0 47.8 L2346.7 47.8 L2346.7 1431.5" fill="none" stroke="#000" stroke-width="3.8"/>
<line x1="262" y1="45.9" x2="262" y2="1431.5" stroke="#000" stroke-width="4.5"/>
<rect x="261.4000000000001" y="1431.8" width="1378.6" height="79.20000000000005" fill="#FAEC0E"/>
<rect x="1640" y="1431.8" width="353.5" height="79.20000000000005" fill="#FEF8B2"/>
<rect x="1993.5" y="1431.8" width="353.5" height="79.20000000000005" fill="#FCF49B"/>
<rect x="261.4000000000001" y="1431.8" width="2085.6" height="79.20000000000005" fill="none" stroke="#000" stroke-width="2.6"/>
<line x1="1640" y1="1431.8" x2="1640" y2="1511" stroke="#000" stroke-width="4"/>
<line x1="1993.5" y1="1431.8" x2="1993.5" y2="1511" stroke="#000" stroke-width="4"/>
<text x="877" y="1506" font-size="83" textLength="310" lengthAdjust="spacing">Miocene</text>
<text x="1661.8" y="1506.2" font-size="82.2" textLength="308" lengthAdjust="spacing">Pliocene</text>
<text x="2162.9" y="1496" font-size="82.5" text-anchor="middle">Q</text>
<text x="207.8" y="73.8" font-size="84" text-anchor="middle">0</text>
<text x="207.8" y="236.6" font-size="84" text-anchor="middle">2</text>
<text x="207.8" y="399.2" font-size="84" text-anchor="middle">4</text>
<text x="207.8" y="561.9" font-size="84" text-anchor="middle">6</text>
<text x="207.8" y="724.6" font-size="84" text-anchor="middle">8</text>
<text x="205.6" y="887.3" font-size="84" text-anchor="middle">10</text>
<text x="205.6" y="1050.0" font-size="84" text-anchor="middle">12</text>
<text x="205.6" y="1212.8" font-size="84" text-anchor="middle">14</text>
<text x="205.6" y="1375.5" font-size="84" text-anchor="middle">16</text>
<text x="205.6" y="1538.2" font-size="84" text-anchor="middle">18</text>
<text x="395.1" y="1611.7" font-size="106" text-anchor="middle">15</text>
<text x="1051.2" y="1611.7" font-size="106" text-anchor="middle">10</text>
<text x="1695.7" y="1611.7" font-size="106" text-anchor="middle">5</text>
<text x="2350.3" y="1611.7" font-size="106" text-anchor="middle">0</text>
<text x="1041.7" y="1722" font-size="114" textLength="492" lengthAdjust="spacing">Time(Ma)</text>
<text transform="translate(97.6 1032) rotate(-90)" x="0" y="0" font-size="113.5" textLength="533" lengthAdjust="spacing">Depth(km)</text>
<text transform="translate(300.3 1131.6) rotate(-32)" x="0" y="0" font-size="81.7" textLength="399.5" lengthAdjust="spacing" xml:space="preserve">1. 61mm/ y</text>
<text transform="translate(655.2 779.0) rotate(-32)" x="0" y="0" font-size="81.7" textLength="371.0" lengthAdjust="spacing" xml:space="preserve">1. 8 mm/ y</text>
<text transform="translate(1146.4 983.7) rotate(-32)" x="0" y="0" font-size="81.7" textLength="396.5" lengthAdjust="spacing" xml:space="preserve">0.17 mm/ y</text>
<text transform="translate(1462.6 352.9) rotate(-32)" x="0" y="0" font-size="81.7" textLength="355.0" lengthAdjust="spacing" xml:space="preserve">2.5 mm/ y</text>
<text transform="translate(1878.5 353.2) rotate(-32)" x="0" y="0" font-size="81.7" textLength="397.0" lengthAdjust="spacing" xml:space="preserve">0.28 mm/ y</text>
</svg></body></html>
